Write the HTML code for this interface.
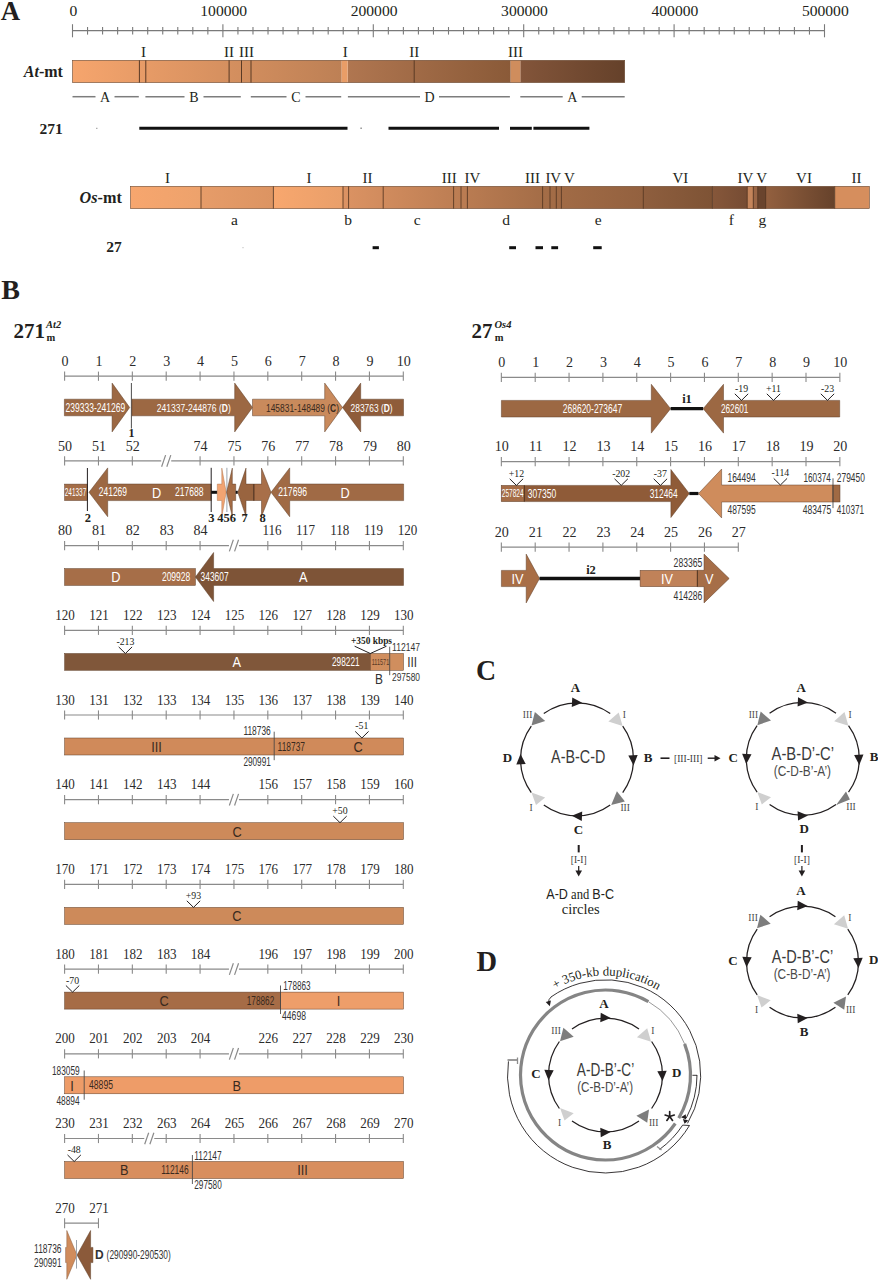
<!DOCTYPE html>
<html><head><meta charset="utf-8"><style>
html,body{margin:0;padding:0;background:#fff;}
svg{display:block;}
</style></head><body>
<svg width="878" height="1280" viewBox="0 0 878 1280">
<rect width="878" height="1280" fill="#fff"/>
<text x="10.50" y="19.80" font-family='"Liberation Serif", serif' font-size="26.8" text-anchor="middle" font-weight="bold" font-style="normal" fill="#231f20" >A</text>
<line x1="72.50" y1="30.60" x2="824.50" y2="30.60" stroke="#7a7a7a" stroke-width="1.1"/>
<line x1="72.50" y1="24.20" x2="72.50" y2="37.30" stroke="#7a7a7a" stroke-width="1.1"/>
<line x1="87.54" y1="27.00" x2="87.54" y2="34.60" stroke="#7a7a7a" stroke-width="1.1"/>
<line x1="102.58" y1="27.00" x2="102.58" y2="34.60" stroke="#7a7a7a" stroke-width="1.1"/>
<line x1="117.62" y1="27.00" x2="117.62" y2="34.60" stroke="#7a7a7a" stroke-width="1.1"/>
<line x1="132.66" y1="27.00" x2="132.66" y2="34.60" stroke="#7a7a7a" stroke-width="1.1"/>
<line x1="147.70" y1="27.00" x2="147.70" y2="34.60" stroke="#7a7a7a" stroke-width="1.1"/>
<line x1="162.74" y1="27.00" x2="162.74" y2="34.60" stroke="#7a7a7a" stroke-width="1.1"/>
<line x1="177.78" y1="27.00" x2="177.78" y2="34.60" stroke="#7a7a7a" stroke-width="1.1"/>
<line x1="192.82" y1="27.00" x2="192.82" y2="34.60" stroke="#7a7a7a" stroke-width="1.1"/>
<line x1="207.86" y1="27.00" x2="207.86" y2="34.60" stroke="#7a7a7a" stroke-width="1.1"/>
<line x1="222.90" y1="24.20" x2="222.90" y2="37.30" stroke="#7a7a7a" stroke-width="1.1"/>
<line x1="237.94" y1="27.00" x2="237.94" y2="34.60" stroke="#7a7a7a" stroke-width="1.1"/>
<line x1="252.98" y1="27.00" x2="252.98" y2="34.60" stroke="#7a7a7a" stroke-width="1.1"/>
<line x1="268.02" y1="27.00" x2="268.02" y2="34.60" stroke="#7a7a7a" stroke-width="1.1"/>
<line x1="283.06" y1="27.00" x2="283.06" y2="34.60" stroke="#7a7a7a" stroke-width="1.1"/>
<line x1="298.10" y1="27.00" x2="298.10" y2="34.60" stroke="#7a7a7a" stroke-width="1.1"/>
<line x1="313.14" y1="27.00" x2="313.14" y2="34.60" stroke="#7a7a7a" stroke-width="1.1"/>
<line x1="328.18" y1="27.00" x2="328.18" y2="34.60" stroke="#7a7a7a" stroke-width="1.1"/>
<line x1="343.22" y1="27.00" x2="343.22" y2="34.60" stroke="#7a7a7a" stroke-width="1.1"/>
<line x1="358.26" y1="27.00" x2="358.26" y2="34.60" stroke="#7a7a7a" stroke-width="1.1"/>
<line x1="373.30" y1="24.20" x2="373.30" y2="37.30" stroke="#7a7a7a" stroke-width="1.1"/>
<line x1="388.34" y1="27.00" x2="388.34" y2="34.60" stroke="#7a7a7a" stroke-width="1.1"/>
<line x1="403.38" y1="27.00" x2="403.38" y2="34.60" stroke="#7a7a7a" stroke-width="1.1"/>
<line x1="418.42" y1="27.00" x2="418.42" y2="34.60" stroke="#7a7a7a" stroke-width="1.1"/>
<line x1="433.46" y1="27.00" x2="433.46" y2="34.60" stroke="#7a7a7a" stroke-width="1.1"/>
<line x1="448.50" y1="27.00" x2="448.50" y2="34.60" stroke="#7a7a7a" stroke-width="1.1"/>
<line x1="463.54" y1="27.00" x2="463.54" y2="34.60" stroke="#7a7a7a" stroke-width="1.1"/>
<line x1="478.58" y1="27.00" x2="478.58" y2="34.60" stroke="#7a7a7a" stroke-width="1.1"/>
<line x1="493.62" y1="27.00" x2="493.62" y2="34.60" stroke="#7a7a7a" stroke-width="1.1"/>
<line x1="508.66" y1="27.00" x2="508.66" y2="34.60" stroke="#7a7a7a" stroke-width="1.1"/>
<line x1="523.70" y1="24.20" x2="523.70" y2="37.30" stroke="#7a7a7a" stroke-width="1.1"/>
<line x1="538.74" y1="27.00" x2="538.74" y2="34.60" stroke="#7a7a7a" stroke-width="1.1"/>
<line x1="553.78" y1="27.00" x2="553.78" y2="34.60" stroke="#7a7a7a" stroke-width="1.1"/>
<line x1="568.82" y1="27.00" x2="568.82" y2="34.60" stroke="#7a7a7a" stroke-width="1.1"/>
<line x1="583.86" y1="27.00" x2="583.86" y2="34.60" stroke="#7a7a7a" stroke-width="1.1"/>
<line x1="598.90" y1="27.00" x2="598.90" y2="34.60" stroke="#7a7a7a" stroke-width="1.1"/>
<line x1="613.94" y1="27.00" x2="613.94" y2="34.60" stroke="#7a7a7a" stroke-width="1.1"/>
<line x1="628.98" y1="27.00" x2="628.98" y2="34.60" stroke="#7a7a7a" stroke-width="1.1"/>
<line x1="644.02" y1="27.00" x2="644.02" y2="34.60" stroke="#7a7a7a" stroke-width="1.1"/>
<line x1="659.06" y1="27.00" x2="659.06" y2="34.60" stroke="#7a7a7a" stroke-width="1.1"/>
<line x1="674.10" y1="24.20" x2="674.10" y2="37.30" stroke="#7a7a7a" stroke-width="1.1"/>
<line x1="689.14" y1="27.00" x2="689.14" y2="34.60" stroke="#7a7a7a" stroke-width="1.1"/>
<line x1="704.18" y1="27.00" x2="704.18" y2="34.60" stroke="#7a7a7a" stroke-width="1.1"/>
<line x1="719.22" y1="27.00" x2="719.22" y2="34.60" stroke="#7a7a7a" stroke-width="1.1"/>
<line x1="734.26" y1="27.00" x2="734.26" y2="34.60" stroke="#7a7a7a" stroke-width="1.1"/>
<line x1="749.30" y1="27.00" x2="749.30" y2="34.60" stroke="#7a7a7a" stroke-width="1.1"/>
<line x1="764.34" y1="27.00" x2="764.34" y2="34.60" stroke="#7a7a7a" stroke-width="1.1"/>
<line x1="779.38" y1="27.00" x2="779.38" y2="34.60" stroke="#7a7a7a" stroke-width="1.1"/>
<line x1="794.42" y1="27.00" x2="794.42" y2="34.60" stroke="#7a7a7a" stroke-width="1.1"/>
<line x1="809.46" y1="27.00" x2="809.46" y2="34.60" stroke="#7a7a7a" stroke-width="1.1"/>
<line x1="824.50" y1="24.20" x2="824.50" y2="37.30" stroke="#7a7a7a" stroke-width="1.1"/>
<text x="73.30" y="15.80" font-family='"Liberation Serif", serif' font-size="15.6" text-anchor="middle" font-weight="normal" font-style="normal" fill="#231f20" >0</text>
<text x="223.70" y="15.80" font-family='"Liberation Serif", serif' font-size="15.6" text-anchor="middle" font-weight="normal" font-style="normal" fill="#231f20" >100000</text>
<text x="374.10" y="15.80" font-family='"Liberation Serif", serif' font-size="15.6" text-anchor="middle" font-weight="normal" font-style="normal" fill="#231f20" >200000</text>
<text x="524.50" y="15.80" font-family='"Liberation Serif", serif' font-size="15.6" text-anchor="middle" font-weight="normal" font-style="normal" fill="#231f20" >300000</text>
<text x="674.90" y="15.80" font-family='"Liberation Serif", serif' font-size="15.6" text-anchor="middle" font-weight="normal" font-style="normal" fill="#231f20" >400000</text>
<text x="825.30" y="15.80" font-family='"Liberation Serif", serif' font-size="15.6" text-anchor="middle" font-weight="normal" font-style="normal" fill="#231f20" >500000</text>
<defs><linearGradient id="ga1" x1="0" x2="1"><stop offset="0" stop-color="#f6a56d"/><stop offset="1" stop-color="#bd8055"/></linearGradient><linearGradient id="ga2" x1="0" x2="1"><stop offset="0" stop-color="#b07650"/><stop offset="1" stop-color="#8a5a38"/></linearGradient><linearGradient id="ga3" x1="0" x2="1"><stop offset="0" stop-color="#83553a"/><stop offset="1" stop-color="#65412a"/></linearGradient></defs>
<rect x="72.50" y="60.30" width="269.20" height="22.30" fill="url(#ga1)" stroke="none" stroke-width="0"/>
<rect x="347.60" y="60.30" width="163.10" height="22.30" fill="url(#ga2)" stroke="none" stroke-width="0"/>
<rect x="520.30" y="60.30" width="104.40" height="22.30" fill="url(#ga3)" stroke="none" stroke-width="0"/>
<rect x="341.70" y="60.30" width="5.90" height="22.30" fill="#e99d67" stroke="none" stroke-width="0"/>
<rect x="510.70" y="60.30" width="9.60" height="22.30" fill="#cf8d5d" stroke="none" stroke-width="0"/>
<rect x="72.50" y="60.30" width="552.20" height="22.30" fill="none" stroke="#6b4a33" stroke-width="0.6"/>
<line x1="139.40" y1="60.30" x2="139.40" y2="82.60" stroke="#5a3a25" stroke-width="1.0"/>
<line x1="145.80" y1="60.30" x2="145.80" y2="82.60" stroke="#5a3a25" stroke-width="1.0"/>
<line x1="229.10" y1="60.30" x2="229.10" y2="82.60" stroke="#5a3a25" stroke-width="1.0"/>
<line x1="241.50" y1="60.30" x2="241.50" y2="82.60" stroke="#5a3a25" stroke-width="1.0"/>
<line x1="251.00" y1="60.30" x2="251.00" y2="82.60" stroke="#5a3a25" stroke-width="1.0"/>
<line x1="414.20" y1="60.30" x2="414.20" y2="82.60" stroke="#5a3a25" stroke-width="1.0"/>
<text x="143.60" y="57.20" font-family='"Liberation Serif", serif' font-size="15" text-anchor="middle" font-weight="normal" font-style="normal" fill="#231f20" >I</text>
<text x="229.10" y="57.20" font-family='"Liberation Serif", serif' font-size="15" text-anchor="middle" font-weight="normal" font-style="normal" fill="#231f20" >II</text>
<text x="246.40" y="57.20" font-family='"Liberation Serif", serif' font-size="15" text-anchor="middle" font-weight="normal" font-style="normal" fill="#231f20" >III</text>
<text x="345.20" y="57.20" font-family='"Liberation Serif", serif' font-size="15" text-anchor="middle" font-weight="normal" font-style="normal" fill="#231f20" >I</text>
<text x="414.20" y="57.20" font-family='"Liberation Serif", serif' font-size="15" text-anchor="middle" font-weight="normal" font-style="normal" fill="#231f20" >II</text>
<text x="515.50" y="57.20" font-family='"Liberation Serif", serif' font-size="15" text-anchor="middle" font-weight="normal" font-style="normal" fill="#231f20" >III</text>
<text x="62.9" y="77.2" font-family='"Liberation Serif", serif' font-size="16" text-anchor="end" font-weight="bold" fill="#231f20"><tspan font-style="italic">At</tspan>-mt</text>
<line x1="72.50" y1="96.70" x2="95.50" y2="96.70" stroke="#7d7d7d" stroke-width="1.5"/>
<line x1="114.50" y1="96.70" x2="138.80" y2="96.70" stroke="#7d7d7d" stroke-width="1.5"/>
<text x="105.00" y="101.70" font-family='"Liberation Serif", serif' font-size="14" text-anchor="middle" font-weight="normal" font-style="normal" fill="#231f20" >A</text>
<line x1="145.40" y1="96.70" x2="184.50" y2="96.70" stroke="#7d7d7d" stroke-width="1.5"/>
<line x1="203.50" y1="96.70" x2="240.80" y2="96.70" stroke="#7d7d7d" stroke-width="1.5"/>
<text x="194.00" y="101.70" font-family='"Liberation Serif", serif' font-size="14" text-anchor="middle" font-weight="normal" font-style="normal" fill="#231f20" >B</text>
<line x1="250.80" y1="96.70" x2="286.50" y2="96.70" stroke="#7d7d7d" stroke-width="1.5"/>
<line x1="305.50" y1="96.70" x2="341.20" y2="96.70" stroke="#7d7d7d" stroke-width="1.5"/>
<text x="296.00" y="101.70" font-family='"Liberation Serif", serif' font-size="14" text-anchor="middle" font-weight="normal" font-style="normal" fill="#231f20" >C</text>
<line x1="347.90" y1="96.70" x2="420.00" y2="96.70" stroke="#7d7d7d" stroke-width="1.5"/>
<line x1="439.00" y1="96.70" x2="509.90" y2="96.70" stroke="#7d7d7d" stroke-width="1.5"/>
<text x="429.50" y="101.70" font-family='"Liberation Serif", serif' font-size="14" text-anchor="middle" font-weight="normal" font-style="normal" fill="#231f20" >D</text>
<line x1="520.30" y1="96.70" x2="562.70" y2="96.70" stroke="#7d7d7d" stroke-width="1.5"/>
<line x1="581.70" y1="96.70" x2="624.70" y2="96.70" stroke="#7d7d7d" stroke-width="1.5"/>
<text x="572.20" y="101.70" font-family='"Liberation Serif", serif' font-size="14" text-anchor="middle" font-weight="normal" font-style="normal" fill="#231f20" >A</text>
<text x="62.70" y="134.30" font-family='"Liberation Serif", serif' font-size="15.5" text-anchor="end" font-weight="bold" font-style="normal" fill="#231f20" >271</text>
<line x1="139.30" y1="128.30" x2="347.50" y2="128.30" stroke="#111" stroke-width="3.0"/>
<line x1="388.50" y1="128.30" x2="499.00" y2="128.30" stroke="#111" stroke-width="3.0"/>
<line x1="510.00" y1="128.30" x2="531.80" y2="128.30" stroke="#111" stroke-width="3.0"/>
<line x1="533.40" y1="128.30" x2="589.40" y2="128.30" stroke="#111" stroke-width="3.0"/>
<line x1="96.20" y1="128.30" x2="97.40" y2="128.30" stroke="#999" stroke-width="1.2"/>
<line x1="360.50" y1="128.30" x2="361.70" y2="128.30" stroke="#777" stroke-width="1.5"/>
<defs><linearGradient id="go1" x1="0" x2="1"><stop offset="0" stop-color="#f7a66e"/><stop offset="1" stop-color="#eda26c"/></linearGradient><linearGradient id="go2" x1="0" x2="1"><stop offset="0" stop-color="#e69c69"/><stop offset="1" stop-color="#dc9462"/></linearGradient><linearGradient id="go3" x1="0" x2="1"><stop offset="0" stop-color="#f8a76e"/><stop offset="1" stop-color="#e99f6a"/></linearGradient><linearGradient id="go4" x1="0" x2="1"><stop offset="0" stop-color="#dc9363"/><stop offset="1" stop-color="#a46d47"/></linearGradient><linearGradient id="go5" x1="0" x2="1"><stop offset="0" stop-color="#a46d47"/><stop offset="0.59" stop-color="#93613f"/><stop offset="0.6" stop-color="#8e5e3e"/><stop offset="1" stop-color="#7e5335"/></linearGradient><linearGradient id="go6" x1="0" x2="1"><stop offset="0" stop-color="#86573a"/><stop offset="1" stop-color="#6d4630"/></linearGradient><linearGradient id="go7" x1="0" x2="1"><stop offset="0" stop-color="#93603f"/><stop offset="1" stop-color="#66422b"/></linearGradient></defs>
<rect x="130.50" y="186.30" width="70.50" height="22.30" fill="url(#go1)" stroke="none" stroke-width="0"/>
<rect x="201.00" y="186.30" width="72.40" height="22.30" fill="url(#go2)" stroke="none" stroke-width="0"/>
<rect x="273.40" y="186.30" width="69.60" height="22.30" fill="url(#go3)" stroke="none" stroke-width="0"/>
<rect x="343.00" y="186.30" width="200.00" height="22.30" fill="url(#go4)" stroke="none" stroke-width="0"/>
<rect x="543.00" y="186.30" width="169.40" height="22.30" fill="url(#go5)" stroke="none" stroke-width="0"/>
<rect x="712.40" y="186.30" width="53.60" height="22.30" fill="url(#go6)" stroke="none" stroke-width="0"/>
<rect x="747.20" y="186.30" width="6.10" height="22.30" fill="#c4845a" stroke="none" stroke-width="0"/>
<rect x="753.30" y="186.30" width="4.50" height="22.30" fill="#9a6646" stroke="none" stroke-width="0"/>
<rect x="757.80" y="186.30" width="7.90" height="22.30" fill="#6a442d" stroke="none" stroke-width="0"/>
<rect x="766.00" y="186.30" width="68.70" height="22.30" fill="url(#go7)" stroke="none" stroke-width="0"/>
<rect x="834.70" y="186.30" width="34.70" height="22.30" fill="#d68e5d" stroke="none" stroke-width="0"/>
<rect x="130.50" y="186.30" width="738.90" height="22.30" fill="none" stroke="#6b4a33" stroke-width="0.6"/>
<line x1="201.00" y1="186.30" x2="201.00" y2="208.60" stroke="#5a3a25" stroke-width="0.9"/>
<line x1="273.40" y1="186.30" x2="273.40" y2="208.60" stroke="#5a3a25" stroke-width="0.9"/>
<line x1="343.00" y1="186.30" x2="343.00" y2="208.60" stroke="#5a3a25" stroke-width="0.9"/>
<line x1="348.60" y1="186.30" x2="348.60" y2="208.60" stroke="#5a3a25" stroke-width="0.9"/>
<line x1="383.20" y1="186.30" x2="383.20" y2="208.60" stroke="#5a3a25" stroke-width="0.9"/>
<line x1="453.60" y1="186.30" x2="453.60" y2="208.60" stroke="#5a3a25" stroke-width="0.9"/>
<line x1="461.00" y1="186.30" x2="461.00" y2="208.60" stroke="#5a3a25" stroke-width="0.9"/>
<line x1="467.40" y1="186.30" x2="467.40" y2="208.60" stroke="#5a3a25" stroke-width="0.9"/>
<line x1="542.60" y1="186.30" x2="542.60" y2="208.60" stroke="#5a3a25" stroke-width="0.9"/>
<line x1="550.00" y1="186.30" x2="550.00" y2="208.60" stroke="#5a3a25" stroke-width="0.9"/>
<line x1="556.30" y1="186.30" x2="556.30" y2="208.60" stroke="#5a3a25" stroke-width="0.9"/>
<line x1="561.40" y1="186.30" x2="561.40" y2="208.60" stroke="#5a3a25" stroke-width="0.9"/>
<line x1="643.30" y1="186.30" x2="643.30" y2="208.60" stroke="#5a3a25" stroke-width="0.9"/>
<line x1="712.40" y1="186.30" x2="712.40" y2="208.60" stroke="#5a3a25" stroke-width="0.9"/>
<line x1="747.20" y1="186.30" x2="747.20" y2="208.60" stroke="#5a3a25" stroke-width="0.9"/>
<line x1="753.30" y1="186.30" x2="753.30" y2="208.60" stroke="#5a3a25" stroke-width="0.9"/>
<line x1="757.80" y1="186.30" x2="757.80" y2="208.60" stroke="#5a3a25" stroke-width="0.9"/>
<line x1="765.70" y1="186.30" x2="765.70" y2="208.60" stroke="#5a3a25" stroke-width="0.9"/>
<line x1="834.70" y1="186.30" x2="834.70" y2="208.60" stroke="#5a3a25" stroke-width="0.9"/>
<text x="167.60" y="183.00" font-family='"Liberation Serif", serif' font-size="15" text-anchor="middle" font-weight="normal" font-style="normal" fill="#231f20" >I</text>
<text x="309.00" y="183.00" font-family='"Liberation Serif", serif' font-size="15" text-anchor="middle" font-weight="normal" font-style="normal" fill="#231f20" >I</text>
<text x="367.60" y="183.00" font-family='"Liberation Serif", serif' font-size="15" text-anchor="middle" font-weight="normal" font-style="normal" fill="#231f20" >II</text>
<text x="449.30" y="183.00" font-family='"Liberation Serif", serif' font-size="15" text-anchor="middle" font-weight="normal" font-style="normal" fill="#231f20" >III</text>
<text x="472.40" y="183.00" font-family='"Liberation Serif", serif' font-size="15" text-anchor="middle" font-weight="normal" font-style="normal" fill="#231f20" >IV</text>
<text x="532.50" y="183.00" font-family='"Liberation Serif", serif' font-size="15" text-anchor="middle" font-weight="normal" font-style="normal" fill="#231f20" >III</text>
<text x="553.30" y="183.00" font-family='"Liberation Serif", serif' font-size="15" text-anchor="middle" font-weight="normal" font-style="normal" fill="#231f20" >IV</text>
<text x="569.40" y="183.00" font-family='"Liberation Serif", serif' font-size="15" text-anchor="middle" font-weight="normal" font-style="normal" fill="#231f20" >V</text>
<text x="680.40" y="183.00" font-family='"Liberation Serif", serif' font-size="15" text-anchor="middle" font-weight="normal" font-style="normal" fill="#231f20" >VI</text>
<text x="745.40" y="183.00" font-family='"Liberation Serif", serif' font-size="15" text-anchor="middle" font-weight="normal" font-style="normal" fill="#231f20" >IV</text>
<text x="761.60" y="183.00" font-family='"Liberation Serif", serif' font-size="15" text-anchor="middle" font-weight="normal" font-style="normal" fill="#231f20" >V</text>
<text x="804.00" y="183.00" font-family='"Liberation Serif", serif' font-size="15" text-anchor="middle" font-weight="normal" font-style="normal" fill="#231f20" >VI</text>
<text x="856.40" y="183.00" font-family='"Liberation Serif", serif' font-size="15" text-anchor="middle" font-weight="normal" font-style="normal" fill="#231f20" >II</text>
<text x="234.50" y="224.80" font-family='"Liberation Serif", serif' font-size="15.5" text-anchor="middle" font-weight="normal" font-style="normal" fill="#231f20" >a</text>
<text x="348.00" y="224.80" font-family='"Liberation Serif", serif' font-size="15.5" text-anchor="middle" font-weight="normal" font-style="normal" fill="#231f20" >b</text>
<text x="417.20" y="224.80" font-family='"Liberation Serif", serif' font-size="15.5" text-anchor="middle" font-weight="normal" font-style="normal" fill="#231f20" >c</text>
<text x="506.00" y="224.80" font-family='"Liberation Serif", serif' font-size="15.5" text-anchor="middle" font-weight="normal" font-style="normal" fill="#231f20" >d</text>
<text x="598.20" y="224.80" font-family='"Liberation Serif", serif' font-size="15.5" text-anchor="middle" font-weight="normal" font-style="normal" fill="#231f20" >e</text>
<text x="731.40" y="224.80" font-family='"Liberation Serif", serif' font-size="15.5" text-anchor="middle" font-weight="normal" font-style="normal" fill="#231f20" >f</text>
<text x="762.30" y="224.80" font-family='"Liberation Serif", serif' font-size="15.5" text-anchor="middle" font-weight="normal" font-style="normal" fill="#231f20" >g</text>
<text x="121.8" y="203.2" font-family='"Liberation Serif", serif' font-size="16.2" text-anchor="end" font-weight="bold" fill="#231f20"><tspan font-style="italic">Os</tspan>-mt</text>
<text x="121.80" y="252.40" font-family='"Liberation Serif", serif' font-size="15.5" text-anchor="end" font-weight="bold" font-style="normal" fill="#231f20" >27</text>
<line x1="372.60" y1="247.70" x2="378.90" y2="247.70" stroke="#111" stroke-width="3.0"/>
<line x1="509.20" y1="247.70" x2="516.00" y2="247.70" stroke="#111" stroke-width="3.0"/>
<line x1="535.50" y1="247.70" x2="543.00" y2="247.70" stroke="#111" stroke-width="3.0"/>
<line x1="551.30" y1="247.70" x2="558.10" y2="247.70" stroke="#111" stroke-width="3.0"/>
<line x1="593.20" y1="247.70" x2="601.70" y2="247.70" stroke="#111" stroke-width="3.0"/>
<line x1="242.50" y1="247.70" x2="243.50" y2="247.70" stroke="#aaa" stroke-width="1"/>
<text transform="translate(1.2 298.6) scale(1.0 1)" font-family='"Liberation Serif", serif' font-size="28" font-weight="bold" fill="#231f20">B</text>
<text x="13.50" y="338.20" font-family='"Liberation Serif", serif' font-size="21" text-anchor="start" font-weight="bold" font-style="normal" fill="#231f20" >271</text>
<text x="46.00" y="327.60" font-family='"Liberation Serif", serif' font-size="10.5" text-anchor="start" font-weight="bold" font-style="italic" fill="#231f20" >At2</text>
<text x="46.50" y="340.70" font-family='"Liberation Serif", serif' font-size="10.5" text-anchor="start" font-weight="bold" font-style="normal" fill="#231f20" >m</text>
<text x="471.50" y="337.80" font-family='"Liberation Serif", serif' font-size="21" text-anchor="start" font-weight="bold" font-style="normal" fill="#231f20" >27</text>
<text x="494.50" y="328.20" font-family='"Liberation Serif", serif' font-size="10.5" text-anchor="start" font-weight="bold" font-style="italic" fill="#231f20" >Os4</text>
<text x="494.80" y="340.70" font-family='"Liberation Serif", serif' font-size="10.5" text-anchor="start" font-weight="bold" font-style="normal" fill="#231f20" >m</text>
<line x1="64.60" y1="376.20" x2="403.30" y2="376.20" stroke="#8a8a8a" stroke-width="1.2"/>
<line x1="64.60" y1="371.60" x2="64.60" y2="380.80" stroke="#8a8a8a" stroke-width="1.1"/>
<text transform="translate(65.10 365.80) scale(0.97 1)" font-family='"Liberation Serif", serif' font-size="14.5" text-anchor="middle" fill="#2b2b2b">0</text>
<line x1="98.47" y1="371.60" x2="98.47" y2="380.80" stroke="#8a8a8a" stroke-width="1.1"/>
<text transform="translate(98.97 365.80) scale(0.97 1)" font-family='"Liberation Serif", serif' font-size="14.5" text-anchor="middle" fill="#2b2b2b">1</text>
<line x1="132.34" y1="371.60" x2="132.34" y2="380.80" stroke="#8a8a8a" stroke-width="1.1"/>
<text transform="translate(132.84 365.80) scale(0.97 1)" font-family='"Liberation Serif", serif' font-size="14.5" text-anchor="middle" fill="#2b2b2b">2</text>
<line x1="166.21" y1="371.60" x2="166.21" y2="380.80" stroke="#8a8a8a" stroke-width="1.1"/>
<text transform="translate(166.71 365.80) scale(0.97 1)" font-family='"Liberation Serif", serif' font-size="14.5" text-anchor="middle" fill="#2b2b2b">3</text>
<line x1="200.08" y1="371.60" x2="200.08" y2="380.80" stroke="#8a8a8a" stroke-width="1.1"/>
<text transform="translate(200.58 365.80) scale(0.97 1)" font-family='"Liberation Serif", serif' font-size="14.5" text-anchor="middle" fill="#2b2b2b">4</text>
<line x1="233.95" y1="371.60" x2="233.95" y2="380.80" stroke="#8a8a8a" stroke-width="1.1"/>
<text transform="translate(234.45 365.80) scale(0.97 1)" font-family='"Liberation Serif", serif' font-size="14.5" text-anchor="middle" fill="#2b2b2b">5</text>
<line x1="267.82" y1="371.60" x2="267.82" y2="380.80" stroke="#8a8a8a" stroke-width="1.1"/>
<text transform="translate(268.32 365.80) scale(0.97 1)" font-family='"Liberation Serif", serif' font-size="14.5" text-anchor="middle" fill="#2b2b2b">6</text>
<line x1="301.69" y1="371.60" x2="301.69" y2="380.80" stroke="#8a8a8a" stroke-width="1.1"/>
<text transform="translate(302.19 365.80) scale(0.97 1)" font-family='"Liberation Serif", serif' font-size="14.5" text-anchor="middle" fill="#2b2b2b">7</text>
<line x1="335.56" y1="371.60" x2="335.56" y2="380.80" stroke="#8a8a8a" stroke-width="1.1"/>
<text transform="translate(336.06 365.80) scale(0.97 1)" font-family='"Liberation Serif", serif' font-size="14.5" text-anchor="middle" fill="#2b2b2b">8</text>
<line x1="369.43" y1="371.60" x2="369.43" y2="380.80" stroke="#8a8a8a" stroke-width="1.1"/>
<text transform="translate(369.93 365.80) scale(0.97 1)" font-family='"Liberation Serif", serif' font-size="14.5" text-anchor="middle" fill="#2b2b2b">9</text>
<line x1="403.30" y1="371.60" x2="403.30" y2="380.80" stroke="#8a8a8a" stroke-width="1.1"/>
<text transform="translate(403.80 365.80) scale(0.97 1)" font-family='"Liberation Serif", serif' font-size="14.5" text-anchor="middle" fill="#2b2b2b">10</text>
<polygon points="64.40,399.20 112.10,399.20 112.10,383.10 129.70,407.50 112.10,431.90 112.10,415.80 64.40,415.80" fill="#9c6843" stroke="#5e3e28" stroke-width="0.5" stroke-linejoin="miter"/>
<text x="65.50" y="411.52" font-family='"Liberation Sans", sans-serif' font-size="12" fill="#fff" font-weight="normal" textLength="59.70" lengthAdjust="spacingAndGlyphs">239333-241269</text>
<line x1="131.40" y1="383.00" x2="131.40" y2="428.50" stroke="#3a3a3a" stroke-width="0.9"/>
<text x="131.40" y="436.50" font-family='"Liberation Serif", serif' font-size="12" text-anchor="middle" font-weight="bold" font-style="normal" fill="#231f20" >1</text>
<polygon points="131.90,399.20 234.70,399.20 234.70,383.10 252.50,407.50 234.70,431.90 234.70,415.80 131.90,415.80" fill="#9c6843" stroke="#5e3e28" stroke-width="0.5" stroke-linejoin="miter"/>
<text x="156.8" y="411.60" font-family='"Liberation Sans", sans-serif' font-size="11.5" fill="#fff" textLength="74" lengthAdjust="spacingAndGlyphs">241337-244876 (<tspan font-weight="bold">D</tspan>)</text>
<polygon points="252.50,399.20 324.70,399.20 324.70,383.10 342.50,407.50 324.70,431.90 324.70,415.80 252.50,415.80" fill="#c98a5c" stroke="#5e3e28" stroke-width="0.5" stroke-linejoin="miter"/>
<text x="266" y="411.60" font-family='"Liberation Sans", sans-serif' font-size="11.5" fill="#3a2a1e" textLength="73" lengthAdjust="spacingAndGlyphs">145831-148489 (<tspan font-weight="bold">C</tspan>)</text>
<polygon points="403.50,399.20 360.70,399.20 360.70,383.10 342.50,407.50 360.70,431.90 360.70,415.80 403.50,415.80" fill="#8f5c3a" stroke="#5e3e28" stroke-width="0.5" stroke-linejoin="miter"/>
<text x="350.6" y="411.60" font-family='"Liberation Sans", sans-serif' font-size="11.5" fill="#fff" textLength="42" lengthAdjust="spacingAndGlyphs">283763 (<tspan font-weight="bold">D</tspan>)</text>
<line x1="64.60" y1="460.90" x2="161.21" y2="460.90" stroke="#8a8a8a" stroke-width="1.2"/>
<line x1="171.21" y1="460.90" x2="403.30" y2="460.90" stroke="#8a8a8a" stroke-width="1.2"/>
<line x1="161.61" y1="466.70" x2="165.61" y2="455.10" stroke="#8a8a8a" stroke-width="1.2"/>
<line x1="166.81" y1="466.70" x2="170.81" y2="455.10" stroke="#8a8a8a" stroke-width="1.2"/>
<line x1="64.60" y1="456.30" x2="64.60" y2="465.50" stroke="#8a8a8a" stroke-width="1.1"/>
<text transform="translate(65.10 450.50) scale(0.97 1)" font-family='"Liberation Serif", serif' font-size="14.5" text-anchor="middle" fill="#2b2b2b">50</text>
<line x1="98.47" y1="456.30" x2="98.47" y2="465.50" stroke="#8a8a8a" stroke-width="1.1"/>
<text transform="translate(98.97 450.50) scale(0.97 1)" font-family='"Liberation Serif", serif' font-size="14.5" text-anchor="middle" fill="#2b2b2b">51</text>
<line x1="132.34" y1="456.30" x2="132.34" y2="465.50" stroke="#8a8a8a" stroke-width="1.1"/>
<text transform="translate(132.84 450.50) scale(0.97 1)" font-family='"Liberation Serif", serif' font-size="14.5" text-anchor="middle" fill="#2b2b2b">52</text>
<line x1="200.08" y1="456.30" x2="200.08" y2="465.50" stroke="#8a8a8a" stroke-width="1.1"/>
<text transform="translate(200.58 450.50) scale(0.97 1)" font-family='"Liberation Serif", serif' font-size="14.5" text-anchor="middle" fill="#2b2b2b">74</text>
<line x1="233.95" y1="456.30" x2="233.95" y2="465.50" stroke="#8a8a8a" stroke-width="1.1"/>
<text transform="translate(234.45 450.50) scale(0.97 1)" font-family='"Liberation Serif", serif' font-size="14.5" text-anchor="middle" fill="#2b2b2b">75</text>
<line x1="267.82" y1="456.30" x2="267.82" y2="465.50" stroke="#8a8a8a" stroke-width="1.1"/>
<text transform="translate(268.32 450.50) scale(0.97 1)" font-family='"Liberation Serif", serif' font-size="14.5" text-anchor="middle" fill="#2b2b2b">76</text>
<line x1="301.69" y1="456.30" x2="301.69" y2="465.50" stroke="#8a8a8a" stroke-width="1.1"/>
<text transform="translate(302.19 450.50) scale(0.97 1)" font-family='"Liberation Serif", serif' font-size="14.5" text-anchor="middle" fill="#2b2b2b">77</text>
<line x1="335.56" y1="456.30" x2="335.56" y2="465.50" stroke="#8a8a8a" stroke-width="1.1"/>
<text transform="translate(336.06 450.50) scale(0.97 1)" font-family='"Liberation Serif", serif' font-size="14.5" text-anchor="middle" fill="#2b2b2b">78</text>
<line x1="369.43" y1="456.30" x2="369.43" y2="465.50" stroke="#8a8a8a" stroke-width="1.1"/>
<text transform="translate(369.93 450.50) scale(0.97 1)" font-family='"Liberation Serif", serif' font-size="14.5" text-anchor="middle" fill="#2b2b2b">79</text>
<line x1="403.30" y1="456.30" x2="403.30" y2="465.50" stroke="#8a8a8a" stroke-width="1.1"/>
<text transform="translate(403.80 450.50) scale(0.97 1)" font-family='"Liberation Serif", serif' font-size="14.5" text-anchor="middle" fill="#2b2b2b">80</text>
<rect x="64.60" y="484.10" width="22.80" height="16.40" fill="#a46d47" stroke="#5e3e28" stroke-width="0.5"/>
<text x="64.80" y="495.98" font-family='"Liberation Sans", sans-serif' font-size="11" fill="#fff" font-weight="normal" textLength="21.40" lengthAdjust="spacingAndGlyphs">241337</text>
<polygon points="211.30,484.00 107.70,484.00 107.70,467.90 89.00,492.30 107.70,516.70 107.70,500.60 211.30,500.60" fill="#9c6843" stroke="#5e3e28" stroke-width="0.5" stroke-linejoin="miter"/>
<text x="98.80" y="496.32" font-family='"Liberation Sans", sans-serif' font-size="12" fill="#fff" font-weight="normal" textLength="28.20" lengthAdjust="spacingAndGlyphs">241269</text>
<text transform="translate(156.60 497.67) scale(0.85 1)" font-family='"Liberation Sans", sans-serif' font-size="15" fill="#fff" text-anchor="middle" font-weight="normal">D</text>
<text x="175.00" y="496.32" font-family='"Liberation Sans", sans-serif' font-size="12" fill="#fff" font-weight="normal" textLength="28.60" lengthAdjust="spacingAndGlyphs">217688</text>
<line x1="87.40" y1="468.00" x2="87.40" y2="511.00" stroke="#231f20" stroke-width="1"/>
<text x="87.80" y="522.00" font-family='"Liberation Serif", serif' font-size="12.5" text-anchor="middle" font-weight="bold" font-style="normal" fill="#231f20" >2</text>
<line x1="211.20" y1="467.80" x2="211.20" y2="512.00" stroke="#231f20" stroke-width="1"/>
<text x="211.40" y="522.00" font-family='"Liberation Serif", serif' font-size="12.5" text-anchor="middle" font-weight="bold" font-style="normal" fill="#231f20" >3</text>
<line x1="211.20" y1="492.30" x2="217.30" y2="492.30" stroke="#111" stroke-width="3"/>
<polygon points="217.30,484.10 221.80,484.10 221.80,468.10 226.20,492.30 221.80,516.50 221.80,500.50 217.30,500.50" fill="#f2a472" stroke="#b07a55" stroke-width="0.5" stroke-linejoin="miter"/>
<line x1="226.90" y1="467.80" x2="226.90" y2="512.00" stroke="#9aa3ad" stroke-width="1"/>
<polygon points="235.70,484.10 232.30,484.10 232.30,468.10 226.60,492.30 232.30,516.50 232.30,500.50 235.70,500.50" fill="#a56c45" stroke="#5e3e28" stroke-width="0.5" stroke-linejoin="miter"/>
<line x1="235.70" y1="492.30" x2="237.80" y2="492.30" stroke="#111" stroke-width="3"/>
<polygon points="253.80,484.10 246.00,484.10 246.00,468.10 237.80,492.30 246.00,516.50 246.00,500.50 253.80,500.50" fill="#99643f" stroke="#5e3e28" stroke-width="0.5" stroke-linejoin="miter"/>
<polygon points="253.80,484.10 261.50,484.10 261.50,468.10 271.00,492.30 261.50,516.50 261.50,500.50 253.80,500.50" fill="#a86f49" stroke="#5e3e28" stroke-width="0.5" stroke-linejoin="miter"/>
<line x1="253.80" y1="484.10" x2="253.80" y2="500.50" stroke="#5a3a25" stroke-width="1.2"/>
<text x="226.50" y="522.00" font-family='"Liberation Serif", serif' font-size="12.5" text-anchor="middle" font-weight="bold" font-style="normal" fill="#231f20" >456</text>
<text x="244.60" y="522.00" font-family='"Liberation Serif", serif' font-size="12.5" text-anchor="middle" font-weight="bold" font-style="normal" fill="#231f20" >7</text>
<text x="262.70" y="522.00" font-family='"Liberation Serif", serif' font-size="12.5" text-anchor="middle" font-weight="bold" font-style="normal" fill="#231f20" >8</text>
<polygon points="403.60,484.00 289.70,484.00 289.70,467.90 271.00,492.30 289.70,516.70 289.70,500.60 403.60,500.60" fill="#a06a45" stroke="#5e3e28" stroke-width="0.5" stroke-linejoin="miter"/>
<text x="278.30" y="496.32" font-family='"Liberation Sans", sans-serif' font-size="12" fill="#fff" font-weight="normal" textLength="28.70" lengthAdjust="spacingAndGlyphs">217696</text>
<text transform="translate(345.00 497.67) scale(0.85 1)" font-family='"Liberation Sans", sans-serif' font-size="15" fill="#fff" text-anchor="middle" font-weight="normal">D</text>
<line x1="64.60" y1="545.60" x2="228.95" y2="545.60" stroke="#8a8a8a" stroke-width="1.2"/>
<line x1="238.95" y1="545.60" x2="403.30" y2="545.60" stroke="#8a8a8a" stroke-width="1.2"/>
<line x1="229.35" y1="551.40" x2="233.35" y2="539.80" stroke="#8a8a8a" stroke-width="1.2"/>
<line x1="234.55" y1="551.40" x2="238.55" y2="539.80" stroke="#8a8a8a" stroke-width="1.2"/>
<line x1="64.60" y1="541.00" x2="64.60" y2="550.20" stroke="#8a8a8a" stroke-width="1.1"/>
<text transform="translate(65.10 535.20) scale(0.97 1)" font-family='"Liberation Serif", serif' font-size="14.5" text-anchor="middle" fill="#2b2b2b">80</text>
<line x1="98.47" y1="541.00" x2="98.47" y2="550.20" stroke="#8a8a8a" stroke-width="1.1"/>
<text transform="translate(98.97 535.20) scale(0.97 1)" font-family='"Liberation Serif", serif' font-size="14.5" text-anchor="middle" fill="#2b2b2b">81</text>
<line x1="132.34" y1="541.00" x2="132.34" y2="550.20" stroke="#8a8a8a" stroke-width="1.1"/>
<text transform="translate(132.84 535.20) scale(0.97 1)" font-family='"Liberation Serif", serif' font-size="14.5" text-anchor="middle" fill="#2b2b2b">82</text>
<line x1="166.21" y1="541.00" x2="166.21" y2="550.20" stroke="#8a8a8a" stroke-width="1.1"/>
<text transform="translate(166.71 535.20) scale(0.97 1)" font-family='"Liberation Serif", serif' font-size="14.5" text-anchor="middle" fill="#2b2b2b">83</text>
<line x1="200.08" y1="541.00" x2="200.08" y2="550.20" stroke="#8a8a8a" stroke-width="1.1"/>
<text transform="translate(200.58 535.20) scale(0.97 1)" font-family='"Liberation Serif", serif' font-size="14.5" text-anchor="middle" fill="#2b2b2b">84</text>
<line x1="267.82" y1="541.00" x2="267.82" y2="550.20" stroke="#8a8a8a" stroke-width="1.1"/>
<text transform="translate(271.92 535.20) scale(0.9 1)" font-family='"Liberation Serif", serif' font-size="14.5" text-anchor="middle" fill="#2b2b2b">116</text>
<line x1="301.69" y1="541.00" x2="301.69" y2="550.20" stroke="#8a8a8a" stroke-width="1.1"/>
<text transform="translate(305.59 535.20) scale(0.9 1)" font-family='"Liberation Serif", serif' font-size="14.5" text-anchor="middle" fill="#2b2b2b">117</text>
<line x1="335.56" y1="541.00" x2="335.56" y2="550.20" stroke="#8a8a8a" stroke-width="1.1"/>
<text transform="translate(339.66 535.20) scale(0.9 1)" font-family='"Liberation Serif", serif' font-size="14.5" text-anchor="middle" fill="#2b2b2b">118</text>
<line x1="369.43" y1="541.00" x2="369.43" y2="550.20" stroke="#8a8a8a" stroke-width="1.1"/>
<text transform="translate(373.53 535.20) scale(0.9 1)" font-family='"Liberation Serif", serif' font-size="14.5" text-anchor="middle" fill="#2b2b2b">119</text>
<line x1="403.30" y1="541.00" x2="403.30" y2="550.20" stroke="#8a8a8a" stroke-width="1.1"/>
<text transform="translate(407.60 535.20) scale(0.9 1)" font-family='"Liberation Serif", serif' font-size="14.5" text-anchor="middle" fill="#2b2b2b">120</text>
<rect x="64.60" y="568.60" width="130.80" height="16.80" fill="#a66e48" stroke="#5e3e28" stroke-width="0.5"/>
<text transform="translate(115.90 582.37) scale(0.85 1)" font-family='"Liberation Sans", sans-serif' font-size="15" fill="#fff" text-anchor="middle" font-weight="normal">D</text>
<text x="161.90" y="581.02" font-family='"Liberation Sans", sans-serif' font-size="12" fill="#fff" font-weight="normal" textLength="28.40" lengthAdjust="spacingAndGlyphs">209928</text>
<polygon points="403.50,568.60 213.60,568.60 213.60,552.50 195.40,577.00 213.60,601.50 213.60,585.40 403.50,585.40" fill="#7e5437" stroke="#5e3e28" stroke-width="0.5" stroke-linejoin="miter"/>
<text x="200.60" y="581.02" font-family='"Liberation Sans", sans-serif' font-size="12" fill="#fff" font-weight="normal" textLength="28.00" lengthAdjust="spacingAndGlyphs">343607</text>
<text transform="translate(303.30 582.37) scale(0.85 1)" font-family='"Liberation Sans", sans-serif' font-size="15" fill="#fff" text-anchor="middle" font-weight="normal">A</text>
<line x1="64.60" y1="630.30" x2="403.30" y2="630.30" stroke="#8a8a8a" stroke-width="1.2"/>
<line x1="64.60" y1="625.70" x2="64.60" y2="634.90" stroke="#8a8a8a" stroke-width="1.1"/>
<text transform="translate(65.10 619.90) scale(0.9 1)" font-family='"Liberation Serif", serif' font-size="14.5" text-anchor="middle" fill="#2b2b2b">120</text>
<line x1="98.47" y1="625.70" x2="98.47" y2="634.90" stroke="#8a8a8a" stroke-width="1.1"/>
<text transform="translate(98.97 619.90) scale(0.9 1)" font-family='"Liberation Serif", serif' font-size="14.5" text-anchor="middle" fill="#2b2b2b">121</text>
<line x1="132.34" y1="625.70" x2="132.34" y2="634.90" stroke="#8a8a8a" stroke-width="1.1"/>
<text transform="translate(132.84 619.90) scale(0.9 1)" font-family='"Liberation Serif", serif' font-size="14.5" text-anchor="middle" fill="#2b2b2b">122</text>
<line x1="166.21" y1="625.70" x2="166.21" y2="634.90" stroke="#8a8a8a" stroke-width="1.1"/>
<text transform="translate(166.71 619.90) scale(0.9 1)" font-family='"Liberation Serif", serif' font-size="14.5" text-anchor="middle" fill="#2b2b2b">123</text>
<line x1="200.08" y1="625.70" x2="200.08" y2="634.90" stroke="#8a8a8a" stroke-width="1.1"/>
<text transform="translate(200.58 619.90) scale(0.9 1)" font-family='"Liberation Serif", serif' font-size="14.5" text-anchor="middle" fill="#2b2b2b">124</text>
<line x1="233.95" y1="625.70" x2="233.95" y2="634.90" stroke="#8a8a8a" stroke-width="1.1"/>
<text transform="translate(234.45 619.90) scale(0.9 1)" font-family='"Liberation Serif", serif' font-size="14.5" text-anchor="middle" fill="#2b2b2b">125</text>
<line x1="267.82" y1="625.70" x2="267.82" y2="634.90" stroke="#8a8a8a" stroke-width="1.1"/>
<text transform="translate(268.32 619.90) scale(0.9 1)" font-family='"Liberation Serif", serif' font-size="14.5" text-anchor="middle" fill="#2b2b2b">126</text>
<line x1="301.69" y1="625.70" x2="301.69" y2="634.90" stroke="#8a8a8a" stroke-width="1.1"/>
<text transform="translate(302.19 619.90) scale(0.9 1)" font-family='"Liberation Serif", serif' font-size="14.5" text-anchor="middle" fill="#2b2b2b">127</text>
<line x1="335.56" y1="625.70" x2="335.56" y2="634.90" stroke="#8a8a8a" stroke-width="1.1"/>
<text transform="translate(336.06 619.90) scale(0.9 1)" font-family='"Liberation Serif", serif' font-size="14.5" text-anchor="middle" fill="#2b2b2b">128</text>
<line x1="369.43" y1="625.70" x2="369.43" y2="634.90" stroke="#8a8a8a" stroke-width="1.1"/>
<text transform="translate(369.93 619.90) scale(0.9 1)" font-family='"Liberation Serif", serif' font-size="14.5" text-anchor="middle" fill="#2b2b2b">129</text>
<line x1="403.30" y1="625.70" x2="403.30" y2="634.90" stroke="#8a8a8a" stroke-width="1.1"/>
<text transform="translate(403.80 619.90) scale(0.9 1)" font-family='"Liberation Serif", serif' font-size="14.5" text-anchor="middle" fill="#2b2b2b">130</text>
<rect x="64.60" y="653.50" width="305.70" height="16.80" fill="#80573a" stroke="#5e3e28" stroke-width="0.5"/>
<rect x="370.30" y="653.50" width="33.20" height="16.80" fill="#d08e5e" stroke="#5e3e28" stroke-width="0.5"/>
<text transform="translate(236.80 667.27) scale(0.85 1)" font-family='"Liberation Sans", sans-serif' font-size="15" fill="#fff" text-anchor="middle" font-weight="normal">A</text>
<text x="332.00" y="665.92" font-family='"Liberation Sans", sans-serif' font-size="12" fill="#fff" font-weight="normal" textLength="27.60" lengthAdjust="spacingAndGlyphs">298221</text>
<text x="371.70" y="664.91" font-family='"Liberation Sans", sans-serif' font-size="9" fill="#5a3a25" font-weight="normal" textLength="17.50" lengthAdjust="spacingAndGlyphs">111571</text>
<line x1="389.70" y1="646.70" x2="389.70" y2="675.20" stroke="#444" stroke-width="0.85"/>
<polyline points="118.70,646.90 125.40,653.50 132.10,646.90" fill="none" stroke="#231f20" stroke-width="1"/>
<text x="125.40" y="644.90" font-family='"Liberation Serif", serif' font-size="9.8" text-anchor="middle" font-weight="normal" font-style="normal" fill="#231f20" >-213</text>
<polyline points="354.6,646.2 370.3,653.50 386.5,646.2" fill="none" stroke="#231f20" stroke-width="1"/>
<text x="351" y="644" font-family='"Liberation Serif", serif' font-size="10.5" font-weight="bold" fill="#231f20" textLength="41" lengthAdjust="spacingAndGlyphs">+350 kbps</text>
<text x="392.00" y="650.55" font-family='"Liberation Sans", sans-serif' font-size="11.5" fill="#333" font-weight="normal" textLength="28.00" lengthAdjust="spacingAndGlyphs">112147</text>
<text x="392.00" y="680.85" font-family='"Liberation Sans", sans-serif' font-size="11.5" fill="#333" font-weight="normal" textLength="28.00" lengthAdjust="spacingAndGlyphs">297580</text>
<text transform="translate(412.20 666.91) scale(0.85 1)" font-family='"Liberation Sans", sans-serif' font-size="14" fill="#333" text-anchor="middle" font-weight="normal">III</text>
<text transform="translate(379.00 683.61) scale(0.85 1)" font-family='"Liberation Sans", sans-serif' font-size="14" fill="#333" text-anchor="middle" font-weight="normal">B</text>
<line x1="64.60" y1="715.00" x2="403.30" y2="715.00" stroke="#8a8a8a" stroke-width="1.2"/>
<line x1="64.60" y1="710.40" x2="64.60" y2="719.60" stroke="#8a8a8a" stroke-width="1.1"/>
<text transform="translate(65.10 704.60) scale(0.9 1)" font-family='"Liberation Serif", serif' font-size="14.5" text-anchor="middle" fill="#2b2b2b">130</text>
<line x1="98.47" y1="710.40" x2="98.47" y2="719.60" stroke="#8a8a8a" stroke-width="1.1"/>
<text transform="translate(98.97 704.60) scale(0.9 1)" font-family='"Liberation Serif", serif' font-size="14.5" text-anchor="middle" fill="#2b2b2b">131</text>
<line x1="132.34" y1="710.40" x2="132.34" y2="719.60" stroke="#8a8a8a" stroke-width="1.1"/>
<text transform="translate(132.84 704.60) scale(0.9 1)" font-family='"Liberation Serif", serif' font-size="14.5" text-anchor="middle" fill="#2b2b2b">132</text>
<line x1="166.21" y1="710.40" x2="166.21" y2="719.60" stroke="#8a8a8a" stroke-width="1.1"/>
<text transform="translate(166.71 704.60) scale(0.9 1)" font-family='"Liberation Serif", serif' font-size="14.5" text-anchor="middle" fill="#2b2b2b">133</text>
<line x1="200.08" y1="710.40" x2="200.08" y2="719.60" stroke="#8a8a8a" stroke-width="1.1"/>
<text transform="translate(200.58 704.60) scale(0.9 1)" font-family='"Liberation Serif", serif' font-size="14.5" text-anchor="middle" fill="#2b2b2b">134</text>
<line x1="233.95" y1="710.40" x2="233.95" y2="719.60" stroke="#8a8a8a" stroke-width="1.1"/>
<text transform="translate(234.45 704.60) scale(0.9 1)" font-family='"Liberation Serif", serif' font-size="14.5" text-anchor="middle" fill="#2b2b2b">135</text>
<line x1="267.82" y1="710.40" x2="267.82" y2="719.60" stroke="#8a8a8a" stroke-width="1.1"/>
<text transform="translate(268.32 704.60) scale(0.9 1)" font-family='"Liberation Serif", serif' font-size="14.5" text-anchor="middle" fill="#2b2b2b">136</text>
<line x1="301.69" y1="710.40" x2="301.69" y2="719.60" stroke="#8a8a8a" stroke-width="1.1"/>
<text transform="translate(302.19 704.60) scale(0.9 1)" font-family='"Liberation Serif", serif' font-size="14.5" text-anchor="middle" fill="#2b2b2b">137</text>
<line x1="335.56" y1="710.40" x2="335.56" y2="719.60" stroke="#8a8a8a" stroke-width="1.1"/>
<text transform="translate(336.06 704.60) scale(0.9 1)" font-family='"Liberation Serif", serif' font-size="14.5" text-anchor="middle" fill="#2b2b2b">138</text>
<line x1="369.43" y1="710.40" x2="369.43" y2="719.60" stroke="#8a8a8a" stroke-width="1.1"/>
<text transform="translate(369.93 704.60) scale(0.9 1)" font-family='"Liberation Serif", serif' font-size="14.5" text-anchor="middle" fill="#2b2b2b">139</text>
<line x1="403.30" y1="710.40" x2="403.30" y2="719.60" stroke="#8a8a8a" stroke-width="1.1"/>
<text transform="translate(403.80 704.60) scale(0.9 1)" font-family='"Liberation Serif", serif' font-size="14.5" text-anchor="middle" fill="#2b2b2b">140</text>
<rect x="64.60" y="738.00" width="338.90" height="17.00" fill="#d08a5a" stroke="#5e3e28" stroke-width="0.5"/>
<text transform="translate(156.60 751.87) scale(0.85 1)" font-family='"Liberation Sans", sans-serif' font-size="15" fill="#3a2a1e" text-anchor="middle" font-weight="normal">III</text>
<line x1="274.20" y1="731.70" x2="274.20" y2="760.20" stroke="#444" stroke-width="0.85"/>
<text x="243.40" y="735.22" font-family='"Liberation Sans", sans-serif' font-size="12" fill="#333" font-weight="normal" textLength="27.40" lengthAdjust="spacingAndGlyphs">118736</text>
<text x="243.40" y="766.42" font-family='"Liberation Sans", sans-serif' font-size="12" fill="#333" font-weight="normal" textLength="27.40" lengthAdjust="spacingAndGlyphs">290991</text>
<text x="277.60" y="750.52" font-family='"Liberation Sans", sans-serif' font-size="12" fill="#3a2a1e" font-weight="normal" textLength="27.40" lengthAdjust="spacingAndGlyphs">118737</text>
<text transform="translate(358.00 751.87) scale(0.85 1)" font-family='"Liberation Sans", sans-serif' font-size="15" fill="#3a2a1e" text-anchor="middle" font-weight="normal">C</text>
<polyline points="355.20,731.40 361.90,738.00 368.60,731.40" fill="none" stroke="#231f20" stroke-width="1"/>
<text x="361.90" y="729.40" font-family='"Liberation Serif", serif' font-size="9.8" text-anchor="middle" font-weight="normal" font-style="normal" fill="#231f20" >-51</text>
<line x1="64.60" y1="799.70" x2="228.95" y2="799.70" stroke="#8a8a8a" stroke-width="1.2"/>
<line x1="238.95" y1="799.70" x2="403.30" y2="799.70" stroke="#8a8a8a" stroke-width="1.2"/>
<line x1="229.35" y1="805.50" x2="233.35" y2="793.90" stroke="#8a8a8a" stroke-width="1.2"/>
<line x1="234.55" y1="805.50" x2="238.55" y2="793.90" stroke="#8a8a8a" stroke-width="1.2"/>
<line x1="64.60" y1="795.10" x2="64.60" y2="804.30" stroke="#8a8a8a" stroke-width="1.1"/>
<text transform="translate(65.10 789.30) scale(0.9 1)" font-family='"Liberation Serif", serif' font-size="14.5" text-anchor="middle" fill="#2b2b2b">140</text>
<line x1="98.47" y1="795.10" x2="98.47" y2="804.30" stroke="#8a8a8a" stroke-width="1.1"/>
<text transform="translate(98.97 789.30) scale(0.9 1)" font-family='"Liberation Serif", serif' font-size="14.5" text-anchor="middle" fill="#2b2b2b">141</text>
<line x1="132.34" y1="795.10" x2="132.34" y2="804.30" stroke="#8a8a8a" stroke-width="1.1"/>
<text transform="translate(132.84 789.30) scale(0.9 1)" font-family='"Liberation Serif", serif' font-size="14.5" text-anchor="middle" fill="#2b2b2b">142</text>
<line x1="166.21" y1="795.10" x2="166.21" y2="804.30" stroke="#8a8a8a" stroke-width="1.1"/>
<text transform="translate(166.71 789.30) scale(0.9 1)" font-family='"Liberation Serif", serif' font-size="14.5" text-anchor="middle" fill="#2b2b2b">143</text>
<line x1="200.08" y1="795.10" x2="200.08" y2="804.30" stroke="#8a8a8a" stroke-width="1.1"/>
<text transform="translate(200.58 789.30) scale(0.9 1)" font-family='"Liberation Serif", serif' font-size="14.5" text-anchor="middle" fill="#2b2b2b">144</text>
<line x1="267.82" y1="795.10" x2="267.82" y2="804.30" stroke="#8a8a8a" stroke-width="1.1"/>
<text transform="translate(268.32 789.30) scale(0.9 1)" font-family='"Liberation Serif", serif' font-size="14.5" text-anchor="middle" fill="#2b2b2b">156</text>
<line x1="301.69" y1="795.10" x2="301.69" y2="804.30" stroke="#8a8a8a" stroke-width="1.1"/>
<text transform="translate(302.19 789.30) scale(0.9 1)" font-family='"Liberation Serif", serif' font-size="14.5" text-anchor="middle" fill="#2b2b2b">157</text>
<line x1="335.56" y1="795.10" x2="335.56" y2="804.30" stroke="#8a8a8a" stroke-width="1.1"/>
<text transform="translate(336.06 789.30) scale(0.9 1)" font-family='"Liberation Serif", serif' font-size="14.5" text-anchor="middle" fill="#2b2b2b">158</text>
<line x1="369.43" y1="795.10" x2="369.43" y2="804.30" stroke="#8a8a8a" stroke-width="1.1"/>
<text transform="translate(369.93 789.30) scale(0.9 1)" font-family='"Liberation Serif", serif' font-size="14.5" text-anchor="middle" fill="#2b2b2b">159</text>
<line x1="403.30" y1="795.10" x2="403.30" y2="804.30" stroke="#8a8a8a" stroke-width="1.1"/>
<text transform="translate(403.80 789.30) scale(0.9 1)" font-family='"Liberation Serif", serif' font-size="14.5" text-anchor="middle" fill="#2b2b2b">160</text>
<rect x="64.60" y="822.70" width="338.90" height="17.00" fill="#cd8a5a" stroke="#5e3e28" stroke-width="0.5"/>
<text transform="translate(237.00 836.57) scale(0.85 1)" font-family='"Liberation Sans", sans-serif' font-size="15" fill="#3a2a1e" text-anchor="middle" font-weight="normal">C</text>
<polyline points="333.30,816.10 340.00,822.70 346.70,816.10" fill="none" stroke="#231f20" stroke-width="1"/>
<text x="340.00" y="814.10" font-family='"Liberation Serif", serif' font-size="9.8" text-anchor="middle" font-weight="normal" font-style="normal" fill="#231f20" >+50</text>
<line x1="64.60" y1="884.40" x2="403.30" y2="884.40" stroke="#8a8a8a" stroke-width="1.2"/>
<line x1="64.60" y1="879.80" x2="64.60" y2="889.00" stroke="#8a8a8a" stroke-width="1.1"/>
<text transform="translate(65.10 874.00) scale(0.9 1)" font-family='"Liberation Serif", serif' font-size="14.5" text-anchor="middle" fill="#2b2b2b">170</text>
<line x1="98.47" y1="879.80" x2="98.47" y2="889.00" stroke="#8a8a8a" stroke-width="1.1"/>
<text transform="translate(98.97 874.00) scale(0.9 1)" font-family='"Liberation Serif", serif' font-size="14.5" text-anchor="middle" fill="#2b2b2b">171</text>
<line x1="132.34" y1="879.80" x2="132.34" y2="889.00" stroke="#8a8a8a" stroke-width="1.1"/>
<text transform="translate(132.84 874.00) scale(0.9 1)" font-family='"Liberation Serif", serif' font-size="14.5" text-anchor="middle" fill="#2b2b2b">172</text>
<line x1="166.21" y1="879.80" x2="166.21" y2="889.00" stroke="#8a8a8a" stroke-width="1.1"/>
<text transform="translate(166.71 874.00) scale(0.9 1)" font-family='"Liberation Serif", serif' font-size="14.5" text-anchor="middle" fill="#2b2b2b">173</text>
<line x1="200.08" y1="879.80" x2="200.08" y2="889.00" stroke="#8a8a8a" stroke-width="1.1"/>
<text transform="translate(200.58 874.00) scale(0.9 1)" font-family='"Liberation Serif", serif' font-size="14.5" text-anchor="middle" fill="#2b2b2b">174</text>
<line x1="233.95" y1="879.80" x2="233.95" y2="889.00" stroke="#8a8a8a" stroke-width="1.1"/>
<text transform="translate(234.45 874.00) scale(0.9 1)" font-family='"Liberation Serif", serif' font-size="14.5" text-anchor="middle" fill="#2b2b2b">175</text>
<line x1="267.82" y1="879.80" x2="267.82" y2="889.00" stroke="#8a8a8a" stroke-width="1.1"/>
<text transform="translate(268.32 874.00) scale(0.9 1)" font-family='"Liberation Serif", serif' font-size="14.5" text-anchor="middle" fill="#2b2b2b">176</text>
<line x1="301.69" y1="879.80" x2="301.69" y2="889.00" stroke="#8a8a8a" stroke-width="1.1"/>
<text transform="translate(302.19 874.00) scale(0.9 1)" font-family='"Liberation Serif", serif' font-size="14.5" text-anchor="middle" fill="#2b2b2b">177</text>
<line x1="335.56" y1="879.80" x2="335.56" y2="889.00" stroke="#8a8a8a" stroke-width="1.1"/>
<text transform="translate(336.06 874.00) scale(0.9 1)" font-family='"Liberation Serif", serif' font-size="14.5" text-anchor="middle" fill="#2b2b2b">178</text>
<line x1="369.43" y1="879.80" x2="369.43" y2="889.00" stroke="#8a8a8a" stroke-width="1.1"/>
<text transform="translate(369.93 874.00) scale(0.9 1)" font-family='"Liberation Serif", serif' font-size="14.5" text-anchor="middle" fill="#2b2b2b">179</text>
<line x1="403.30" y1="879.80" x2="403.30" y2="889.00" stroke="#8a8a8a" stroke-width="1.1"/>
<text transform="translate(403.80 874.00) scale(0.9 1)" font-family='"Liberation Serif", serif' font-size="14.5" text-anchor="middle" fill="#2b2b2b">180</text>
<rect x="64.60" y="907.40" width="338.90" height="17.00" fill="#cd8a5a" stroke="#5e3e28" stroke-width="0.5"/>
<text transform="translate(236.80 921.27) scale(0.85 1)" font-family='"Liberation Sans", sans-serif' font-size="15" fill="#3a2a1e" text-anchor="middle" font-weight="normal">C</text>
<polyline points="186.80,900.80 193.50,907.40 200.20,900.80" fill="none" stroke="#231f20" stroke-width="1"/>
<text x="193.50" y="898.80" font-family='"Liberation Serif", serif' font-size="9.8" text-anchor="middle" font-weight="normal" font-style="normal" fill="#231f20" >+93</text>
<line x1="64.60" y1="969.10" x2="228.95" y2="969.10" stroke="#8a8a8a" stroke-width="1.2"/>
<line x1="238.95" y1="969.10" x2="403.30" y2="969.10" stroke="#8a8a8a" stroke-width="1.2"/>
<line x1="229.35" y1="974.90" x2="233.35" y2="963.30" stroke="#8a8a8a" stroke-width="1.2"/>
<line x1="234.55" y1="974.90" x2="238.55" y2="963.30" stroke="#8a8a8a" stroke-width="1.2"/>
<line x1="64.60" y1="964.50" x2="64.60" y2="973.70" stroke="#8a8a8a" stroke-width="1.1"/>
<text transform="translate(65.10 958.70) scale(0.9 1)" font-family='"Liberation Serif", serif' font-size="14.5" text-anchor="middle" fill="#2b2b2b">180</text>
<line x1="98.47" y1="964.50" x2="98.47" y2="973.70" stroke="#8a8a8a" stroke-width="1.1"/>
<text transform="translate(98.97 958.70) scale(0.9 1)" font-family='"Liberation Serif", serif' font-size="14.5" text-anchor="middle" fill="#2b2b2b">181</text>
<line x1="132.34" y1="964.50" x2="132.34" y2="973.70" stroke="#8a8a8a" stroke-width="1.1"/>
<text transform="translate(132.84 958.70) scale(0.9 1)" font-family='"Liberation Serif", serif' font-size="14.5" text-anchor="middle" fill="#2b2b2b">182</text>
<line x1="166.21" y1="964.50" x2="166.21" y2="973.70" stroke="#8a8a8a" stroke-width="1.1"/>
<text transform="translate(166.71 958.70) scale(0.9 1)" font-family='"Liberation Serif", serif' font-size="14.5" text-anchor="middle" fill="#2b2b2b">183</text>
<line x1="200.08" y1="964.50" x2="200.08" y2="973.70" stroke="#8a8a8a" stroke-width="1.1"/>
<text transform="translate(200.58 958.70) scale(0.9 1)" font-family='"Liberation Serif", serif' font-size="14.5" text-anchor="middle" fill="#2b2b2b">184</text>
<line x1="267.82" y1="964.50" x2="267.82" y2="973.70" stroke="#8a8a8a" stroke-width="1.1"/>
<text transform="translate(268.32 958.70) scale(0.9 1)" font-family='"Liberation Serif", serif' font-size="14.5" text-anchor="middle" fill="#2b2b2b">196</text>
<line x1="301.69" y1="964.50" x2="301.69" y2="973.70" stroke="#8a8a8a" stroke-width="1.1"/>
<text transform="translate(302.19 958.70) scale(0.9 1)" font-family='"Liberation Serif", serif' font-size="14.5" text-anchor="middle" fill="#2b2b2b">197</text>
<line x1="335.56" y1="964.50" x2="335.56" y2="973.70" stroke="#8a8a8a" stroke-width="1.1"/>
<text transform="translate(336.06 958.70) scale(0.9 1)" font-family='"Liberation Serif", serif' font-size="14.5" text-anchor="middle" fill="#2b2b2b">198</text>
<line x1="369.43" y1="964.50" x2="369.43" y2="973.70" stroke="#8a8a8a" stroke-width="1.1"/>
<text transform="translate(369.93 958.70) scale(0.9 1)" font-family='"Liberation Serif", serif' font-size="14.5" text-anchor="middle" fill="#2b2b2b">199</text>
<line x1="403.30" y1="964.50" x2="403.30" y2="973.70" stroke="#8a8a8a" stroke-width="1.1"/>
<text transform="translate(403.80 958.70) scale(0.9 1)" font-family='"Liberation Serif", serif' font-size="14.5" text-anchor="middle" fill="#2b2b2b">200</text>
<rect x="64.60" y="992.10" width="215.90" height="17.00" fill="#a66c46" stroke="#5e3e28" stroke-width="0.5"/>
<rect x="280.50" y="992.10" width="123.00" height="17.00" fill="#ee9e6a" stroke="#5e3e28" stroke-width="0.5"/>
<text transform="translate(164.00 1005.97) scale(0.85 1)" font-family='"Liberation Sans", sans-serif' font-size="15" fill="#3a2a1e" text-anchor="middle" font-weight="normal">C</text>
<text x="246.80" y="1004.62" font-family='"Liberation Sans", sans-serif' font-size="12" fill="#3a2a1e" font-weight="normal" textLength="27.40" lengthAdjust="spacingAndGlyphs">178862</text>
<text transform="translate(338.40 1005.97) scale(0.85 1)" font-family='"Liberation Sans", sans-serif' font-size="15" fill="#3a2a1e" text-anchor="middle" font-weight="normal">I</text>
<line x1="280.50" y1="985.50" x2="280.50" y2="1014.00" stroke="#444" stroke-width="0.85"/>
<text x="283.30" y="989.62" font-family='"Liberation Sans", sans-serif' font-size="12" fill="#333" font-weight="normal" textLength="27.30" lengthAdjust="spacingAndGlyphs">178863</text>
<text x="282.00" y="1019.82" font-family='"Liberation Sans", sans-serif' font-size="12" fill="#333" font-weight="normal" textLength="24.00" lengthAdjust="spacingAndGlyphs">44698</text>
<polyline points="65.90,985.50 72.60,992.10 79.30,985.50" fill="none" stroke="#231f20" stroke-width="1"/>
<text x="72.60" y="983.50" font-family='"Liberation Serif", serif' font-size="9.8" text-anchor="middle" font-weight="normal" font-style="normal" fill="#231f20" >-70</text>
<line x1="64.60" y1="1053.80" x2="228.95" y2="1053.80" stroke="#8a8a8a" stroke-width="1.2"/>
<line x1="238.95" y1="1053.80" x2="403.30" y2="1053.80" stroke="#8a8a8a" stroke-width="1.2"/>
<line x1="229.35" y1="1059.60" x2="233.35" y2="1048.00" stroke="#8a8a8a" stroke-width="1.2"/>
<line x1="234.55" y1="1059.60" x2="238.55" y2="1048.00" stroke="#8a8a8a" stroke-width="1.2"/>
<line x1="64.60" y1="1049.20" x2="64.60" y2="1058.40" stroke="#8a8a8a" stroke-width="1.1"/>
<text transform="translate(65.10 1043.40) scale(0.9 1)" font-family='"Liberation Serif", serif' font-size="14.5" text-anchor="middle" fill="#2b2b2b">200</text>
<line x1="98.47" y1="1049.20" x2="98.47" y2="1058.40" stroke="#8a8a8a" stroke-width="1.1"/>
<text transform="translate(98.97 1043.40) scale(0.9 1)" font-family='"Liberation Serif", serif' font-size="14.5" text-anchor="middle" fill="#2b2b2b">201</text>
<line x1="132.34" y1="1049.20" x2="132.34" y2="1058.40" stroke="#8a8a8a" stroke-width="1.1"/>
<text transform="translate(132.84 1043.40) scale(0.9 1)" font-family='"Liberation Serif", serif' font-size="14.5" text-anchor="middle" fill="#2b2b2b">202</text>
<line x1="166.21" y1="1049.20" x2="166.21" y2="1058.40" stroke="#8a8a8a" stroke-width="1.1"/>
<text transform="translate(166.71 1043.40) scale(0.9 1)" font-family='"Liberation Serif", serif' font-size="14.5" text-anchor="middle" fill="#2b2b2b">203</text>
<line x1="200.08" y1="1049.20" x2="200.08" y2="1058.40" stroke="#8a8a8a" stroke-width="1.1"/>
<text transform="translate(200.58 1043.40) scale(0.9 1)" font-family='"Liberation Serif", serif' font-size="14.5" text-anchor="middle" fill="#2b2b2b">204</text>
<line x1="267.82" y1="1049.20" x2="267.82" y2="1058.40" stroke="#8a8a8a" stroke-width="1.1"/>
<text transform="translate(268.32 1043.40) scale(0.9 1)" font-family='"Liberation Serif", serif' font-size="14.5" text-anchor="middle" fill="#2b2b2b">226</text>
<line x1="301.69" y1="1049.20" x2="301.69" y2="1058.40" stroke="#8a8a8a" stroke-width="1.1"/>
<text transform="translate(302.19 1043.40) scale(0.9 1)" font-family='"Liberation Serif", serif' font-size="14.5" text-anchor="middle" fill="#2b2b2b">227</text>
<line x1="335.56" y1="1049.20" x2="335.56" y2="1058.40" stroke="#8a8a8a" stroke-width="1.1"/>
<text transform="translate(336.06 1043.40) scale(0.9 1)" font-family='"Liberation Serif", serif' font-size="14.5" text-anchor="middle" fill="#2b2b2b">228</text>
<line x1="369.43" y1="1049.20" x2="369.43" y2="1058.40" stroke="#8a8a8a" stroke-width="1.1"/>
<text transform="translate(369.93 1043.40) scale(0.9 1)" font-family='"Liberation Serif", serif' font-size="14.5" text-anchor="middle" fill="#2b2b2b">229</text>
<line x1="403.30" y1="1049.20" x2="403.30" y2="1058.40" stroke="#8a8a8a" stroke-width="1.1"/>
<text transform="translate(403.80 1043.40) scale(0.9 1)" font-family='"Liberation Serif", serif' font-size="14.5" text-anchor="middle" fill="#2b2b2b">230</text>
<rect x="64.60" y="1076.80" width="338.90" height="17.00" fill="#ee9c68" stroke="#5e3e28" stroke-width="0.5"/>
<text transform="translate(72.00 1090.67) scale(0.85 1)" font-family='"Liberation Sans", sans-serif' font-size="15" fill="#3a2a1e" text-anchor="middle" font-weight="normal">I</text>
<line x1="84.20" y1="1070.50" x2="84.20" y2="1099.70" stroke="#444" stroke-width="0.85"/>
<text x="51.90" y="1074.52" font-family='"Liberation Sans", sans-serif' font-size="12" fill="#333" font-weight="normal" textLength="27.80" lengthAdjust="spacingAndGlyphs">183059</text>
<text x="56.40" y="1104.92" font-family='"Liberation Sans", sans-serif' font-size="12" fill="#333" font-weight="normal" textLength="23.30" lengthAdjust="spacingAndGlyphs">48894</text>
<text x="89.00" y="1089.32" font-family='"Liberation Sans", sans-serif' font-size="12" fill="#3a2a1e" font-weight="normal" textLength="24.00" lengthAdjust="spacingAndGlyphs">48895</text>
<text transform="translate(236.80 1090.67) scale(0.85 1)" font-family='"Liberation Sans", sans-serif' font-size="15" fill="#3a2a1e" text-anchor="middle" font-weight="normal">B</text>
<line x1="64.60" y1="1138.50" x2="144.27" y2="1138.50" stroke="#8a8a8a" stroke-width="1.2"/>
<line x1="154.27" y1="1138.50" x2="403.30" y2="1138.50" stroke="#8a8a8a" stroke-width="1.2"/>
<line x1="144.67" y1="1144.30" x2="148.67" y2="1132.70" stroke="#8a8a8a" stroke-width="1.2"/>
<line x1="149.87" y1="1144.30" x2="153.87" y2="1132.70" stroke="#8a8a8a" stroke-width="1.2"/>
<line x1="64.60" y1="1133.90" x2="64.60" y2="1143.10" stroke="#8a8a8a" stroke-width="1.1"/>
<text transform="translate(65.10 1128.10) scale(0.9 1)" font-family='"Liberation Serif", serif' font-size="14.5" text-anchor="middle" fill="#2b2b2b">230</text>
<line x1="98.47" y1="1133.90" x2="98.47" y2="1143.10" stroke="#8a8a8a" stroke-width="1.1"/>
<text transform="translate(98.97 1128.10) scale(0.9 1)" font-family='"Liberation Serif", serif' font-size="14.5" text-anchor="middle" fill="#2b2b2b">231</text>
<line x1="132.34" y1="1133.90" x2="132.34" y2="1143.10" stroke="#8a8a8a" stroke-width="1.1"/>
<text transform="translate(132.84 1128.10) scale(0.9 1)" font-family='"Liberation Serif", serif' font-size="14.5" text-anchor="middle" fill="#2b2b2b">232</text>
<line x1="166.21" y1="1133.90" x2="166.21" y2="1143.10" stroke="#8a8a8a" stroke-width="1.1"/>
<text transform="translate(166.71 1128.10) scale(0.9 1)" font-family='"Liberation Serif", serif' font-size="14.5" text-anchor="middle" fill="#2b2b2b">263</text>
<line x1="200.08" y1="1133.90" x2="200.08" y2="1143.10" stroke="#8a8a8a" stroke-width="1.1"/>
<text transform="translate(200.58 1128.10) scale(0.9 1)" font-family='"Liberation Serif", serif' font-size="14.5" text-anchor="middle" fill="#2b2b2b">264</text>
<line x1="233.95" y1="1133.90" x2="233.95" y2="1143.10" stroke="#8a8a8a" stroke-width="1.1"/>
<text transform="translate(234.45 1128.10) scale(0.9 1)" font-family='"Liberation Serif", serif' font-size="14.5" text-anchor="middle" fill="#2b2b2b">265</text>
<line x1="267.82" y1="1133.90" x2="267.82" y2="1143.10" stroke="#8a8a8a" stroke-width="1.1"/>
<text transform="translate(268.32 1128.10) scale(0.9 1)" font-family='"Liberation Serif", serif' font-size="14.5" text-anchor="middle" fill="#2b2b2b">266</text>
<line x1="301.69" y1="1133.90" x2="301.69" y2="1143.10" stroke="#8a8a8a" stroke-width="1.1"/>
<text transform="translate(302.19 1128.10) scale(0.9 1)" font-family='"Liberation Serif", serif' font-size="14.5" text-anchor="middle" fill="#2b2b2b">267</text>
<line x1="335.56" y1="1133.90" x2="335.56" y2="1143.10" stroke="#8a8a8a" stroke-width="1.1"/>
<text transform="translate(336.06 1128.10) scale(0.9 1)" font-family='"Liberation Serif", serif' font-size="14.5" text-anchor="middle" fill="#2b2b2b">268</text>
<line x1="369.43" y1="1133.90" x2="369.43" y2="1143.10" stroke="#8a8a8a" stroke-width="1.1"/>
<text transform="translate(369.93 1128.10) scale(0.9 1)" font-family='"Liberation Serif", serif' font-size="14.5" text-anchor="middle" fill="#2b2b2b">269</text>
<line x1="403.30" y1="1133.90" x2="403.30" y2="1143.10" stroke="#8a8a8a" stroke-width="1.1"/>
<text transform="translate(403.80 1128.10) scale(0.9 1)" font-family='"Liberation Serif", serif' font-size="14.5" text-anchor="middle" fill="#2b2b2b">270</text>
<rect x="64.60" y="1161.50" width="338.90" height="17.00" fill="#d88e5e" stroke="#5e3e28" stroke-width="0.5"/>
<text transform="translate(124.30 1175.37) scale(0.85 1)" font-family='"Liberation Sans", sans-serif' font-size="15" fill="#3a2a1e" text-anchor="middle" font-weight="normal">B</text>
<text x="161.20" y="1174.02" font-family='"Liberation Sans", sans-serif' font-size="12" fill="#3a2a1e" font-weight="normal" textLength="27.40" lengthAdjust="spacingAndGlyphs">112146</text>
<line x1="192.40" y1="1155.00" x2="192.40" y2="1184.00" stroke="#444" stroke-width="0.85"/>
<text x="194.30" y="1159.62" font-family='"Liberation Sans", sans-serif' font-size="12" fill="#333" font-weight="normal" textLength="27.40" lengthAdjust="spacingAndGlyphs">112147</text>
<text x="194.30" y="1189.02" font-family='"Liberation Sans", sans-serif' font-size="12" fill="#333" font-weight="normal" textLength="27.40" lengthAdjust="spacingAndGlyphs">297580</text>
<text transform="translate(302.50 1175.37) scale(0.85 1)" font-family='"Liberation Sans", sans-serif' font-size="15" fill="#3a2a1e" text-anchor="middle" font-weight="normal">III</text>
<polyline points="67.50,1154.90 74.20,1161.50 80.90,1154.90" fill="none" stroke="#231f20" stroke-width="1"/>
<text x="74.20" y="1152.90" font-family='"Liberation Serif", serif' font-size="9.8" text-anchor="middle" font-weight="normal" font-style="normal" fill="#231f20" >-48</text>
<line x1="64.60" y1="1223.20" x2="98.47" y2="1223.20" stroke="#8a8a8a" stroke-width="1.2"/>
<line x1="64.60" y1="1218.20" x2="64.60" y2="1228.20" stroke="#8a8a8a" stroke-width="1.1"/>
<text transform="translate(65.10 1212.80) scale(0.9 1)" font-family='"Liberation Serif", serif' font-size="14.5" text-anchor="middle" fill="#2b2b2b">270</text>
<line x1="98.47" y1="1218.20" x2="98.47" y2="1228.20" stroke="#8a8a8a" stroke-width="1.1"/>
<text transform="translate(98.97 1212.80) scale(0.9 1)" font-family='"Liberation Serif", serif' font-size="14.5" text-anchor="middle" fill="#2b2b2b">271</text>
<polygon points="65.60,1247.40 66.80,1247.40 66.80,1230.50 77.00,1255.00 66.80,1279.30 66.80,1262.60 65.60,1262.60" fill="#d08c5c" stroke="#8a5e40" stroke-width="0.5" stroke-linejoin="miter"/>
<polygon points="92.90,1247.40 90.60,1247.40 90.60,1230.50 77.00,1255.00 90.60,1279.30 90.60,1262.60 92.90,1262.60" fill="#8b5a3a" stroke="#5e3e28" stroke-width="0.5" stroke-linejoin="miter"/>
<line x1="76.50" y1="1240.00" x2="76.50" y2="1268.60" stroke="#9aa3ad" stroke-width="1"/>
<text x="34.10" y="1252.82" font-family='"Liberation Sans", sans-serif' font-size="12" fill="#333" font-weight="normal" textLength="27.40" lengthAdjust="spacingAndGlyphs">118736</text>
<text x="34.10" y="1267.32" font-family='"Liberation Sans", sans-serif' font-size="12" fill="#333" font-weight="normal" textLength="27.40" lengthAdjust="spacingAndGlyphs">290991</text>
<text x="95" y="1259.20" font-family='"Liberation Sans", sans-serif' font-size="12" fill="#333" font-weight="bold">D</text>
<text x="106.60" y="1259.02" font-family='"Liberation Sans", sans-serif' font-size="12" fill="#333" font-weight="normal" textLength="64.20" lengthAdjust="spacingAndGlyphs">(290990-290530)</text>
<line x1="501.35" y1="377.40" x2="839.85" y2="377.40" stroke="#8a8a8a" stroke-width="1.2"/>
<line x1="501.35" y1="372.80" x2="501.35" y2="382.00" stroke="#8a8a8a" stroke-width="1.1"/>
<text transform="translate(501.85 367.00) scale(0.97 1)" font-family='"Liberation Serif", serif' font-size="14.5" text-anchor="middle" fill="#2b2b2b">0</text>
<line x1="535.20" y1="372.80" x2="535.20" y2="382.00" stroke="#8a8a8a" stroke-width="1.1"/>
<text transform="translate(535.70 367.00) scale(0.97 1)" font-family='"Liberation Serif", serif' font-size="14.5" text-anchor="middle" fill="#2b2b2b">1</text>
<line x1="569.05" y1="372.80" x2="569.05" y2="382.00" stroke="#8a8a8a" stroke-width="1.1"/>
<text transform="translate(569.55 367.00) scale(0.97 1)" font-family='"Liberation Serif", serif' font-size="14.5" text-anchor="middle" fill="#2b2b2b">2</text>
<line x1="602.90" y1="372.80" x2="602.90" y2="382.00" stroke="#8a8a8a" stroke-width="1.1"/>
<text transform="translate(603.40 367.00) scale(0.97 1)" font-family='"Liberation Serif", serif' font-size="14.5" text-anchor="middle" fill="#2b2b2b">3</text>
<line x1="636.75" y1="372.80" x2="636.75" y2="382.00" stroke="#8a8a8a" stroke-width="1.1"/>
<text transform="translate(637.25 367.00) scale(0.97 1)" font-family='"Liberation Serif", serif' font-size="14.5" text-anchor="middle" fill="#2b2b2b">4</text>
<line x1="670.60" y1="372.80" x2="670.60" y2="382.00" stroke="#8a8a8a" stroke-width="1.1"/>
<text transform="translate(671.10 367.00) scale(0.97 1)" font-family='"Liberation Serif", serif' font-size="14.5" text-anchor="middle" fill="#2b2b2b">5</text>
<line x1="704.45" y1="372.80" x2="704.45" y2="382.00" stroke="#8a8a8a" stroke-width="1.1"/>
<text transform="translate(704.95 367.00) scale(0.97 1)" font-family='"Liberation Serif", serif' font-size="14.5" text-anchor="middle" fill="#2b2b2b">6</text>
<line x1="738.30" y1="372.80" x2="738.30" y2="382.00" stroke="#8a8a8a" stroke-width="1.1"/>
<text transform="translate(738.80 367.00) scale(0.97 1)" font-family='"Liberation Serif", serif' font-size="14.5" text-anchor="middle" fill="#2b2b2b">7</text>
<line x1="772.15" y1="372.80" x2="772.15" y2="382.00" stroke="#8a8a8a" stroke-width="1.1"/>
<text transform="translate(772.65 367.00) scale(0.97 1)" font-family='"Liberation Serif", serif' font-size="14.5" text-anchor="middle" fill="#2b2b2b">8</text>
<line x1="806.00" y1="372.80" x2="806.00" y2="382.00" stroke="#8a8a8a" stroke-width="1.1"/>
<text transform="translate(806.50 367.00) scale(0.97 1)" font-family='"Liberation Serif", serif' font-size="14.5" text-anchor="middle" fill="#2b2b2b">9</text>
<line x1="839.85" y1="372.80" x2="839.85" y2="382.00" stroke="#8a8a8a" stroke-width="1.1"/>
<text transform="translate(840.35 367.00) scale(0.97 1)" font-family='"Liberation Serif", serif' font-size="14.5" text-anchor="middle" fill="#2b2b2b">10</text>
<polygon points="501.40,400.40 651.30,400.40 651.30,384.30 670.60,408.70 651.30,433.10 651.30,417.00 501.40,417.00" fill="#9c6843" stroke="#5e3e28" stroke-width="0.5" stroke-linejoin="miter"/>
<text x="562.80" y="412.72" font-family='"Liberation Sans", sans-serif' font-size="12" fill="#fff" font-weight="normal" textLength="59.40" lengthAdjust="spacingAndGlyphs">268620-273647</text>
<line x1="670.60" y1="408.70" x2="703.20" y2="408.70" stroke="#111" stroke-width="3.2"/>
<text x="687.00" y="402.50" font-family='"Liberation Serif", serif' font-size="12.5" text-anchor="middle" font-weight="bold" font-style="normal" fill="#231f20" >i1</text>
<polygon points="839.70,400.40 723.50,400.40 723.50,384.30 703.20,408.70 723.50,433.10 723.50,417.00 839.70,417.00" fill="#9c6843" stroke="#5e3e28" stroke-width="0.5" stroke-linejoin="miter"/>
<text x="721.00" y="412.72" font-family='"Liberation Sans", sans-serif' font-size="12" fill="#fff" font-weight="normal" textLength="27.30" lengthAdjust="spacingAndGlyphs">262601</text>
<polyline points="734.80,393.80 741.50,400.40 748.20,393.80" fill="none" stroke="#231f20" stroke-width="1"/>
<text x="741.50" y="391.80" font-family='"Liberation Serif", serif' font-size="9.8" text-anchor="middle" font-weight="normal" font-style="normal" fill="#231f20" >-19</text>
<polyline points="766.80,393.80 773.50,400.40 780.20,393.80" fill="none" stroke="#231f20" stroke-width="1"/>
<text x="773.50" y="391.80" font-family='"Liberation Serif", serif' font-size="9.8" text-anchor="middle" font-weight="normal" font-style="normal" fill="#231f20" >+11</text>
<polyline points="820.80,393.80 827.50,400.40 834.20,393.80" fill="none" stroke="#231f20" stroke-width="1"/>
<text x="827.50" y="391.80" font-family='"Liberation Serif", serif' font-size="9.8" text-anchor="middle" font-weight="normal" font-style="normal" fill="#231f20" >-23</text>
<line x1="501.35" y1="461.70" x2="839.85" y2="461.70" stroke="#8a8a8a" stroke-width="1.2"/>
<line x1="501.35" y1="457.10" x2="501.35" y2="466.30" stroke="#8a8a8a" stroke-width="1.1"/>
<text transform="translate(501.85 451.30) scale(0.97 1)" font-family='"Liberation Serif", serif' font-size="14.5" text-anchor="middle" fill="#2b2b2b">10</text>
<line x1="535.20" y1="457.10" x2="535.20" y2="466.30" stroke="#8a8a8a" stroke-width="1.1"/>
<text transform="translate(535.70 451.30) scale(0.97 1)" font-family='"Liberation Serif", serif' font-size="14.5" text-anchor="middle" fill="#2b2b2b">11</text>
<line x1="569.05" y1="457.10" x2="569.05" y2="466.30" stroke="#8a8a8a" stroke-width="1.1"/>
<text transform="translate(569.55 451.30) scale(0.97 1)" font-family='"Liberation Serif", serif' font-size="14.5" text-anchor="middle" fill="#2b2b2b">12</text>
<line x1="602.90" y1="457.10" x2="602.90" y2="466.30" stroke="#8a8a8a" stroke-width="1.1"/>
<text transform="translate(603.40 451.30) scale(0.97 1)" font-family='"Liberation Serif", serif' font-size="14.5" text-anchor="middle" fill="#2b2b2b">13</text>
<line x1="636.75" y1="457.10" x2="636.75" y2="466.30" stroke="#8a8a8a" stroke-width="1.1"/>
<text transform="translate(637.25 451.30) scale(0.97 1)" font-family='"Liberation Serif", serif' font-size="14.5" text-anchor="middle" fill="#2b2b2b">14</text>
<line x1="670.60" y1="457.10" x2="670.60" y2="466.30" stroke="#8a8a8a" stroke-width="1.1"/>
<text transform="translate(671.10 451.30) scale(0.97 1)" font-family='"Liberation Serif", serif' font-size="14.5" text-anchor="middle" fill="#2b2b2b">15</text>
<line x1="704.45" y1="457.10" x2="704.45" y2="466.30" stroke="#8a8a8a" stroke-width="1.1"/>
<text transform="translate(704.95 451.30) scale(0.97 1)" font-family='"Liberation Serif", serif' font-size="14.5" text-anchor="middle" fill="#2b2b2b">16</text>
<line x1="738.30" y1="457.10" x2="738.30" y2="466.30" stroke="#8a8a8a" stroke-width="1.1"/>
<text transform="translate(738.80 451.30) scale(0.97 1)" font-family='"Liberation Serif", serif' font-size="14.5" text-anchor="middle" fill="#2b2b2b">17</text>
<line x1="772.15" y1="457.10" x2="772.15" y2="466.30" stroke="#8a8a8a" stroke-width="1.1"/>
<text transform="translate(772.65 451.30) scale(0.97 1)" font-family='"Liberation Serif", serif' font-size="14.5" text-anchor="middle" fill="#2b2b2b">18</text>
<line x1="806.00" y1="457.10" x2="806.00" y2="466.30" stroke="#8a8a8a" stroke-width="1.1"/>
<text transform="translate(806.50 451.30) scale(0.97 1)" font-family='"Liberation Serif", serif' font-size="14.5" text-anchor="middle" fill="#2b2b2b">19</text>
<line x1="839.85" y1="457.10" x2="839.85" y2="466.30" stroke="#8a8a8a" stroke-width="1.1"/>
<text transform="translate(840.35 451.30) scale(0.97 1)" font-family='"Liberation Serif", serif' font-size="14.5" text-anchor="middle" fill="#2b2b2b">20</text>
<rect x="501.20" y="485.40" width="23.20" height="16.20" fill="#a56d47" stroke="#5e3e28" stroke-width="0.5"/>
<text x="501.80" y="497.19" font-family='"Liberation Sans", sans-serif' font-size="11" fill="#fff" font-weight="normal" textLength="21.70" lengthAdjust="spacingAndGlyphs">257824</text>
<polygon points="524.40,485.40 670.90,485.40 670.90,469.50 689.30,493.50 670.90,517.50 670.90,501.60 524.40,501.60" fill="#8f5b38" stroke="#5e3e28" stroke-width="0.5" stroke-linejoin="miter"/>
<line x1="524.40" y1="485.40" x2="524.40" y2="501.60" stroke="#5a3a25" stroke-width="1.2"/>
<text x="527.80" y="497.52" font-family='"Liberation Sans", sans-serif' font-size="12" fill="#fff" font-weight="normal" textLength="28.50" lengthAdjust="spacingAndGlyphs">307350</text>
<text x="649.70" y="497.52" font-family='"Liberation Sans", sans-serif' font-size="12" fill="#fff" font-weight="normal" textLength="28.00" lengthAdjust="spacingAndGlyphs">312464</text>
<polyline points="509.70,478.80 516.40,485.40 523.10,478.80" fill="none" stroke="#231f20" stroke-width="1"/>
<text x="516.40" y="476.80" font-family='"Liberation Serif", serif' font-size="9.8" text-anchor="middle" font-weight="normal" font-style="normal" fill="#231f20" >+12</text>
<polyline points="614.50,478.80 621.20,485.40 627.90,478.80" fill="none" stroke="#231f20" stroke-width="1"/>
<text x="621.20" y="476.80" font-family='"Liberation Serif", serif' font-size="9.8" text-anchor="middle" font-weight="normal" font-style="normal" fill="#231f20" >-202</text>
<polyline points="653.70,478.80 660.40,485.40 667.10,478.80" fill="none" stroke="#231f20" stroke-width="1"/>
<text x="660.40" y="476.80" font-family='"Liberation Serif", serif' font-size="9.8" text-anchor="middle" font-weight="normal" font-style="normal" fill="#231f20" >-37</text>
<line x1="689.30" y1="493.50" x2="698.50" y2="493.50" stroke="#111" stroke-width="3.2"/>
<polygon points="833.00,485.00 721.60,485.00 721.60,469.10 698.50,493.50 721.60,517.90 721.60,502.00 833.00,502.00" fill="#cf8c5c" stroke="#5e3e28" stroke-width="0.5" stroke-linejoin="miter"/>
<rect x="833.00" y="485.00" width="7.00" height="17.00" fill="#a06a44" stroke="#5e3e28" stroke-width="0.5"/>
<line x1="833.00" y1="478.30" x2="833.00" y2="508.10" stroke="#444" stroke-width="0.85"/>
<text x="727.50" y="481.62" font-family='"Liberation Sans", sans-serif' font-size="12" fill="#333" font-weight="normal" textLength="28.10" lengthAdjust="spacingAndGlyphs">164494</text>
<text x="727.50" y="513.92" font-family='"Liberation Sans", sans-serif' font-size="12" fill="#333" font-weight="normal" textLength="28.10" lengthAdjust="spacingAndGlyphs">487595</text>
<polyline points="773.70,478.40 780.40,485.00 787.10,478.40" fill="none" stroke="#231f20" stroke-width="1"/>
<text x="780.40" y="476.40" font-family='"Liberation Serif", serif' font-size="9.8" text-anchor="middle" font-weight="normal" font-style="normal" fill="#231f20" >-114</text>
<text x="803.50" y="481.62" font-family='"Liberation Sans", sans-serif' font-size="12" fill="#333" font-weight="normal" textLength="27.30" lengthAdjust="spacingAndGlyphs">160374</text>
<text x="802.70" y="513.92" font-family='"Liberation Sans", sans-serif' font-size="12" fill="#333" font-weight="normal" textLength="28.60" lengthAdjust="spacingAndGlyphs">483475</text>
<text x="836.80" y="481.62" font-family='"Liberation Sans", sans-serif' font-size="12" fill="#333" font-weight="normal" textLength="28.00" lengthAdjust="spacingAndGlyphs">279450</text>
<text x="836.80" y="513.92" font-family='"Liberation Sans", sans-serif' font-size="12" fill="#333" font-weight="normal" textLength="27.20" lengthAdjust="spacingAndGlyphs">410371</text>
<line x1="501.35" y1="547.20" x2="738.30" y2="547.20" stroke="#8a8a8a" stroke-width="1.2"/>
<line x1="501.35" y1="542.60" x2="501.35" y2="551.80" stroke="#8a8a8a" stroke-width="1.1"/>
<text transform="translate(501.85 536.80) scale(0.97 1)" font-family='"Liberation Serif", serif' font-size="14.5" text-anchor="middle" fill="#2b2b2b">20</text>
<line x1="535.20" y1="542.60" x2="535.20" y2="551.80" stroke="#8a8a8a" stroke-width="1.1"/>
<text transform="translate(535.70 536.80) scale(0.97 1)" font-family='"Liberation Serif", serif' font-size="14.5" text-anchor="middle" fill="#2b2b2b">21</text>
<line x1="569.05" y1="542.60" x2="569.05" y2="551.80" stroke="#8a8a8a" stroke-width="1.1"/>
<text transform="translate(569.55 536.80) scale(0.97 1)" font-family='"Liberation Serif", serif' font-size="14.5" text-anchor="middle" fill="#2b2b2b">22</text>
<line x1="602.90" y1="542.60" x2="602.90" y2="551.80" stroke="#8a8a8a" stroke-width="1.1"/>
<text transform="translate(603.40 536.80) scale(0.97 1)" font-family='"Liberation Serif", serif' font-size="14.5" text-anchor="middle" fill="#2b2b2b">23</text>
<line x1="636.75" y1="542.60" x2="636.75" y2="551.80" stroke="#8a8a8a" stroke-width="1.1"/>
<text transform="translate(637.25 536.80) scale(0.97 1)" font-family='"Liberation Serif", serif' font-size="14.5" text-anchor="middle" fill="#2b2b2b">24</text>
<line x1="670.60" y1="542.60" x2="670.60" y2="551.80" stroke="#8a8a8a" stroke-width="1.1"/>
<text transform="translate(671.10 536.80) scale(0.97 1)" font-family='"Liberation Serif", serif' font-size="14.5" text-anchor="middle" fill="#2b2b2b">25</text>
<line x1="704.45" y1="542.60" x2="704.45" y2="551.80" stroke="#8a8a8a" stroke-width="1.1"/>
<text transform="translate(704.95 536.80) scale(0.97 1)" font-family='"Liberation Serif", serif' font-size="14.5" text-anchor="middle" fill="#2b2b2b">26</text>
<line x1="738.30" y1="542.60" x2="738.30" y2="551.80" stroke="#8a8a8a" stroke-width="1.1"/>
<text transform="translate(738.80 536.80) scale(0.97 1)" font-family='"Liberation Serif", serif' font-size="14.5" text-anchor="middle" fill="#2b2b2b">27</text>
<polygon points="501.40,570.40 526.20,570.40 526.20,554.10 539.50,578.50 526.20,602.90 526.20,586.60 501.40,586.60" fill="#a86e46" stroke="#5e3e28" stroke-width="0.5" stroke-linejoin="miter"/>
<text transform="translate(517.50 583.87) scale(0.85 1)" font-family='"Liberation Sans", sans-serif' font-size="15" fill="#fff" text-anchor="middle" font-weight="normal">IV</text>
<line x1="539.50" y1="578.50" x2="640.40" y2="578.50" stroke="#111" stroke-width="3.6"/>
<text x="591.00" y="573.50" font-family='"Liberation Serif", serif' font-size="12.5" text-anchor="middle" font-weight="bold" font-style="normal" fill="#231f20" >i2</text>
<rect x="640.10" y="570.35" width="57.30" height="16.30" fill="#c08259" stroke="#5e3e28" stroke-width="0.5"/>
<text transform="translate(666.90 583.87) scale(0.85 1)" font-family='"Liberation Sans", sans-serif' font-size="15" fill="#fff" text-anchor="middle" font-weight="normal">IV</text>
<polygon points="697.40,570.35 704.00,570.35 704.00,554.10 729.20,578.50 704.00,602.90 704.00,586.65 697.40,586.65" fill="#a66e48" stroke="#5e3e28" stroke-width="0.5" stroke-linejoin="miter"/>
<line x1="697.40" y1="570.35" x2="697.40" y2="586.65" stroke="#5a3a25" stroke-width="1.1"/>
<text transform="translate(709.20 583.87) scale(0.85 1)" font-family='"Liberation Sans", sans-serif' font-size="15" fill="#fff" text-anchor="middle" font-weight="normal">V</text>
<text x="673.60" y="566.62" font-family='"Liberation Sans", sans-serif' font-size="12" fill="#333" font-weight="normal" textLength="28.70" lengthAdjust="spacingAndGlyphs">283365</text>
<text x="673.60" y="599.52" font-family='"Liberation Sans", sans-serif' font-size="12" fill="#333" font-weight="normal" textLength="28.70" lengthAdjust="spacingAndGlyphs">414286</text>
<text transform="translate(476.0 680.4) scale(0.96 1)" font-family='"Liberation Serif", serif' font-size="29" font-weight="bold" fill="#231f20">C</text>
<path d="M622.71,726.09 A56.50,56.50 0 0 1 622.71,792.51" fill="none" stroke="#231f20" stroke-width="1.25"/>
<path d="M610.21,805.01 A56.50,56.50 0 0 1 543.79,805.01" fill="none" stroke="#231f20" stroke-width="1.25"/>
<path d="M531.29,792.51 A56.50,56.50 0 0 1 531.29,726.09" fill="none" stroke="#231f20" stroke-width="1.25"/>
<path d="M543.79,713.59 A56.50,56.50 0 0 1 610.21,713.59" fill="none" stroke="#231f20" stroke-width="1.25"/>
<polygon points="534.90,712.00 531.50,725.60 545.20,721.00" fill="#7d7d7d" stroke="none" stroke-width="0" stroke-linejoin="miter"/>
<polygon points="618.70,712.50 608.40,721.60 622.60,726.10" fill="#cfcfcf" stroke="none" stroke-width="0" stroke-linejoin="miter"/>
<polygon points="616.90,791.20 611.20,804.90 624.90,801.50" fill="#7d7d7d" stroke="none" stroke-width="0" stroke-linejoin="miter"/>
<polygon points="531.50,792.40 545.20,797.60 536.00,804.90" fill="#cfcfcf" stroke="none" stroke-width="0" stroke-linejoin="miter"/>
<polygon points="582.20,702.80 571.78,706.98 572.25,697.60" fill="#231f20" stroke="none" stroke-width="0" stroke-linejoin="miter"/>
<polygon points="633.50,765.40 628.30,755.45 637.68,754.98" fill="#231f20" stroke="none" stroke-width="0" stroke-linejoin="miter"/>
<polygon points="571.80,815.80 582.22,811.62 581.75,821.00" fill="#231f20" stroke="none" stroke-width="0" stroke-linejoin="miter"/>
<polygon points="520.50,754.10 525.70,764.05 516.32,764.52" fill="#231f20" stroke="none" stroke-width="0" stroke-linejoin="miter"/>
<text x="575.50" y="692.10" font-family='"Liberation Serif", serif' font-size="13" text-anchor="middle" font-weight="bold" font-style="normal" fill="#231f20" >A</text>
<text x="648.20" y="761.70" font-family='"Liberation Serif", serif' font-size="13" text-anchor="middle" font-weight="bold" font-style="normal" fill="#231f20" >B</text>
<text x="578.50" y="833.60" font-family='"Liberation Serif", serif' font-size="13" text-anchor="middle" font-weight="bold" font-style="normal" fill="#231f20" >C</text>
<text x="507.40" y="762.40" font-family='"Liberation Serif", serif' font-size="13" text-anchor="middle" font-weight="bold" font-style="normal" fill="#231f20" >D</text>
<text x="527.60" y="718.30" font-family='"Liberation Serif", serif' font-size="9.5" text-anchor="middle" font-weight="normal" font-style="normal" fill="#4a4a4a" >III</text>
<text x="624.40" y="718.30" font-family='"Liberation Serif", serif' font-size="9.5" text-anchor="middle" font-weight="normal" font-style="normal" fill="#4a4a4a" >I</text>
<text x="625.20" y="810.50" font-family='"Liberation Serif", serif' font-size="9.5" text-anchor="middle" font-weight="normal" font-style="normal" fill="#4a4a4a" >III</text>
<text x="531.00" y="810.50" font-family='"Liberation Serif", serif' font-size="9.5" text-anchor="middle" font-weight="normal" font-style="normal" fill="#4a4a4a" >I</text>
<text transform="translate(578.20 763.06) scale(0.82 1)" font-family='"Liberation Sans", sans-serif' font-size="17.5" fill="#3a3a3a" text-anchor="middle" font-weight="normal">A-B-C-D</text>
<line x1="660.50" y1="758.20" x2="669.50" y2="758.20" stroke="#231f20" stroke-width="1.6"/>
<text x="688.30" y="761.50" font-family='"Liberation Serif", serif' font-size="9.5" text-anchor="middle" font-weight="normal" font-style="normal" fill="#3a3a3a" >[III-III]</text>
<line x1="707.70" y1="758.20" x2="716.00" y2="758.20" stroke="#231f20" stroke-width="1.4"/>
<polygon points="714.50,755.00 714.50,761.40 720.50,758.20" fill="#231f20" stroke="none" stroke-width="0" stroke-linejoin="miter"/>
<path d="M848.51,725.69 A56.50,56.50 0 0 1 848.51,792.11" fill="none" stroke="#231f20" stroke-width="1.25"/>
<path d="M836.01,804.61 A56.50,56.50 0 0 1 769.59,804.61" fill="none" stroke="#231f20" stroke-width="1.25"/>
<path d="M757.09,792.11 A56.50,56.50 0 0 1 757.09,725.69" fill="none" stroke="#231f20" stroke-width="1.25"/>
<path d="M769.59,713.19 A56.50,56.50 0 0 1 836.01,713.19" fill="none" stroke="#231f20" stroke-width="1.25"/>
<polygon points="760.70,711.60 757.30,725.20 771.00,720.60" fill="#7d7d7d" stroke="none" stroke-width="0" stroke-linejoin="miter"/>
<polygon points="844.50,712.10 834.20,721.20 848.40,725.70" fill="#cfcfcf" stroke="none" stroke-width="0" stroke-linejoin="miter"/>
<polygon points="846.00,791.40 836.10,804.90 849.90,799.50" fill="#7d7d7d" stroke="none" stroke-width="0" stroke-linejoin="miter"/>
<polygon points="757.30,792.00 771.00,797.20 761.80,804.50" fill="#cfcfcf" stroke="none" stroke-width="0" stroke-linejoin="miter"/>
<polygon points="808.00,702.40 797.58,706.58 798.05,697.20" fill="#231f20" stroke="none" stroke-width="0" stroke-linejoin="miter"/>
<polygon points="859.30,765.00 854.10,755.05 863.48,754.58" fill="#231f20" stroke="none" stroke-width="0" stroke-linejoin="miter"/>
<polygon points="808.00,815.40 798.05,820.60 797.58,811.22" fill="#231f20" stroke="none" stroke-width="0" stroke-linejoin="miter"/>
<polygon points="746.30,764.10 742.12,753.68 751.50,754.15" fill="#231f20" stroke="none" stroke-width="0" stroke-linejoin="miter"/>
<text x="801.30" y="691.70" font-family='"Liberation Serif", serif' font-size="13" text-anchor="middle" font-weight="bold" font-style="normal" fill="#231f20" >A</text>
<text x="874.00" y="761.30" font-family='"Liberation Serif", serif' font-size="13" text-anchor="middle" font-weight="bold" font-style="normal" fill="#231f20" >B</text>
<text x="804.30" y="833.20" font-family='"Liberation Serif", serif' font-size="13" text-anchor="middle" font-weight="bold" font-style="normal" fill="#231f20" >D</text>
<text x="733.20" y="762.00" font-family='"Liberation Serif", serif' font-size="13" text-anchor="middle" font-weight="bold" font-style="normal" fill="#231f20" >C</text>
<text x="753.40" y="717.90" font-family='"Liberation Serif", serif' font-size="9.5" text-anchor="middle" font-weight="normal" font-style="normal" fill="#4a4a4a" >III</text>
<text x="850.20" y="717.90" font-family='"Liberation Serif", serif' font-size="9.5" text-anchor="middle" font-weight="normal" font-style="normal" fill="#4a4a4a" >I</text>
<text x="851.00" y="810.10" font-family='"Liberation Serif", serif' font-size="9.5" text-anchor="middle" font-weight="normal" font-style="normal" fill="#4a4a4a" >III</text>
<text x="756.80" y="810.10" font-family='"Liberation Serif", serif' font-size="9.5" text-anchor="middle" font-weight="normal" font-style="normal" fill="#4a4a4a" >I</text>
<text transform="translate(802.80 760.22) scale(0.8 1)" font-family='"Liberation Sans", sans-serif' font-size="18.5" fill="#3a3a3a" text-anchor="middle" font-weight="normal">A-B-D’-C’</text>
<text transform="translate(802.40 775.69) scale(0.82 1)" font-family='"Liberation Sans", sans-serif' font-size="14.5" fill="#4a4a4a" text-anchor="middle" font-weight="normal">(C-D-B’-A’)</text>
<line x1="578.70" y1="845.00" x2="578.70" y2="852.40" stroke="#231f20" stroke-width="2"/>
<text x="578.70" y="862.80" font-family='"Liberation Serif", serif' font-size="9.5" text-anchor="middle" font-weight="normal" font-style="normal" fill="#3a3a3a" >[I-I]</text>
<line x1="578.70" y1="866.00" x2="578.70" y2="871.00" stroke="#231f20" stroke-width="1.2"/>
<polygon points="575.40,870.50 582.00,870.50 578.70,876.50" fill="#231f20" stroke="none" stroke-width="0" stroke-linejoin="miter"/>
<text x="546.3" y="898.6" font-family='"Liberation Serif", serif' font-size="14" fill="#231f20" textLength="67.7" lengthAdjust="spacingAndGlyphs"><tspan font-family='"Liberation Sans", sans-serif'>A-D</tspan> and <tspan font-family='"Liberation Sans", sans-serif'>B-C</tspan></text>
<text x="580.70" y="913.90" font-family='"Liberation Serif", serif' font-size="14.5" text-anchor="middle" font-weight="normal" font-style="normal" fill="#231f20" >circles</text>
<line x1="801.90" y1="845.00" x2="801.90" y2="852.40" stroke="#231f20" stroke-width="2"/>
<text x="801.90" y="862.80" font-family='"Liberation Serif", serif' font-size="9.5" text-anchor="middle" font-weight="normal" font-style="normal" fill="#3a3a3a" >[I-I]</text>
<line x1="801.90" y1="866.00" x2="801.90" y2="871.00" stroke="#231f20" stroke-width="1.2"/>
<polygon points="798.60,870.50 805.20,870.50 801.90,876.50" fill="#231f20" stroke="none" stroke-width="0" stroke-linejoin="miter"/>
<path d="M847.80,929.08 A56.00,56.00 0 0 1 847.80,994.92" fill="none" stroke="#231f20" stroke-width="1.25"/>
<path d="M835.42,1007.30 A56.00,56.00 0 0 1 769.58,1007.30" fill="none" stroke="#231f20" stroke-width="1.25"/>
<path d="M757.20,994.92 A56.00,56.00 0 0 1 757.20,929.08" fill="none" stroke="#231f20" stroke-width="1.25"/>
<path d="M769.58,916.70 A56.00,56.00 0 0 1 835.42,916.70" fill="none" stroke="#231f20" stroke-width="1.25"/>
<polygon points="760.40,914.70 757.00,928.30 770.70,923.70" fill="#7d7d7d" stroke="none" stroke-width="0" stroke-linejoin="miter"/>
<polygon points="844.20,915.20 833.90,924.30 848.10,928.80" fill="#cfcfcf" stroke="none" stroke-width="0" stroke-linejoin="miter"/>
<polygon points="846.00,996.40 833.40,1002.70 844.20,1009.80" fill="#7d7d7d" stroke="none" stroke-width="0" stroke-linejoin="miter"/>
<polygon points="757.00,995.10 770.70,1000.30 761.50,1007.60" fill="#cfcfcf" stroke="none" stroke-width="0" stroke-linejoin="miter"/>
<polygon points="807.70,906.00 797.28,910.18 797.75,900.80" fill="#231f20" stroke="none" stroke-width="0" stroke-linejoin="miter"/>
<polygon points="858.50,968.10 853.30,958.15 862.68,957.68" fill="#231f20" stroke="none" stroke-width="0" stroke-linejoin="miter"/>
<polygon points="807.70,1018.00 797.75,1023.20 797.28,1013.82" fill="#231f20" stroke="none" stroke-width="0" stroke-linejoin="miter"/>
<polygon points="746.50,967.20 742.32,956.78 751.70,957.25" fill="#231f20" stroke="none" stroke-width="0" stroke-linejoin="miter"/>
<text x="801.00" y="894.80" font-family='"Liberation Serif", serif' font-size="13" text-anchor="middle" font-weight="bold" font-style="normal" fill="#231f20" >A</text>
<text x="873.70" y="964.40" font-family='"Liberation Serif", serif' font-size="13" text-anchor="middle" font-weight="bold" font-style="normal" fill="#231f20" >D</text>
<text x="804.00" y="1036.30" font-family='"Liberation Serif", serif' font-size="13" text-anchor="middle" font-weight="bold" font-style="normal" fill="#231f20" >B</text>
<text x="732.90" y="965.10" font-family='"Liberation Serif", serif' font-size="13" text-anchor="middle" font-weight="bold" font-style="normal" fill="#231f20" >C</text>
<text x="753.10" y="921.00" font-family='"Liberation Serif", serif' font-size="9.5" text-anchor="middle" font-weight="normal" font-style="normal" fill="#4a4a4a" >III</text>
<text x="849.90" y="921.00" font-family='"Liberation Serif", serif' font-size="9.5" text-anchor="middle" font-weight="normal" font-style="normal" fill="#4a4a4a" >I</text>
<text x="850.70" y="1013.20" font-family='"Liberation Serif", serif' font-size="9.5" text-anchor="middle" font-weight="normal" font-style="normal" fill="#4a4a4a" >III</text>
<text x="756.50" y="1013.20" font-family='"Liberation Serif", serif' font-size="9.5" text-anchor="middle" font-weight="normal" font-style="normal" fill="#4a4a4a" >I</text>
<text transform="translate(802.50 963.32) scale(0.785 1)" font-family='"Liberation Sans", sans-serif' font-size="18.5" fill="#3a3a3a" text-anchor="middle" font-weight="normal">A-D-B’-C’</text>
<text transform="translate(802.10 978.79) scale(0.815 1)" font-family='"Liberation Sans", sans-serif' font-size="14.5" fill="#4a4a4a" text-anchor="middle" font-weight="normal">(C-B-D’-A’)</text>
<text transform="translate(476.6 970.6) scale(1.0 1)" font-family='"Liberation Serif", serif' font-size="28.5" font-weight="bold" fill="#231f20">D</text>
<path d="M651.61,1041.50 A57.00,57.00 0 0 1 651.61,1108.50" fill="none" stroke="#231f20" stroke-width="1.25"/>
<path d="M639.00,1121.11 A57.00,57.00 0 0 1 572.00,1121.11" fill="none" stroke="#231f20" stroke-width="1.25"/>
<path d="M559.39,1108.50 A57.00,57.00 0 0 1 559.39,1041.50" fill="none" stroke="#231f20" stroke-width="1.25"/>
<path d="M572.00,1028.89 A57.00,57.00 0 0 1 639.00,1028.89" fill="none" stroke="#231f20" stroke-width="1.25"/>
<polygon points="563.40,1027.70 560.00,1041.30 573.70,1036.70" fill="#7d7d7d" stroke="none" stroke-width="0" stroke-linejoin="miter"/>
<polygon points="647.20,1028.20 636.90,1037.30 651.10,1041.80" fill="#cfcfcf" stroke="none" stroke-width="0" stroke-linejoin="miter"/>
<polygon points="649.00,1109.40 636.40,1115.70 647.20,1122.80" fill="#7d7d7d" stroke="none" stroke-width="0" stroke-linejoin="miter"/>
<polygon points="560.00,1108.10 573.70,1113.30 564.50,1120.60" fill="#cfcfcf" stroke="none" stroke-width="0" stroke-linejoin="miter"/>
<polygon points="610.70,1018.00 600.28,1022.18 600.75,1012.80" fill="#231f20" stroke="none" stroke-width="0" stroke-linejoin="miter"/>
<polygon points="662.50,1081.10 657.30,1071.15 666.68,1070.68" fill="#231f20" stroke="none" stroke-width="0" stroke-linejoin="miter"/>
<polygon points="610.70,1132.00 600.75,1137.20 600.28,1127.82" fill="#231f20" stroke="none" stroke-width="0" stroke-linejoin="miter"/>
<polygon points="548.50,1080.20 544.32,1069.78 553.70,1070.25" fill="#231f20" stroke="none" stroke-width="0" stroke-linejoin="miter"/>
<text x="604.00" y="1007.80" font-family='"Liberation Serif", serif' font-size="13" text-anchor="middle" font-weight="bold" font-style="normal" fill="#231f20" >A</text>
<text x="676.70" y="1077.40" font-family='"Liberation Serif", serif' font-size="13" text-anchor="middle" font-weight="bold" font-style="normal" fill="#231f20" >D</text>
<text x="607.00" y="1149.30" font-family='"Liberation Serif", serif' font-size="13" text-anchor="middle" font-weight="bold" font-style="normal" fill="#231f20" >B</text>
<text x="535.90" y="1078.10" font-family='"Liberation Serif", serif' font-size="13" text-anchor="middle" font-weight="bold" font-style="normal" fill="#231f20" >C</text>
<text x="556.10" y="1034.00" font-family='"Liberation Serif", serif' font-size="9.5" text-anchor="middle" font-weight="normal" font-style="normal" fill="#4a4a4a" >III</text>
<text x="652.90" y="1034.00" font-family='"Liberation Serif", serif' font-size="9.5" text-anchor="middle" font-weight="normal" font-style="normal" fill="#4a4a4a" >I</text>
<text x="653.70" y="1126.20" font-family='"Liberation Serif", serif' font-size="9.5" text-anchor="middle" font-weight="normal" font-style="normal" fill="#4a4a4a" >III</text>
<text x="559.50" y="1126.20" font-family='"Liberation Serif", serif' font-size="9.5" text-anchor="middle" font-weight="normal" font-style="normal" fill="#4a4a4a" >I</text>
<text transform="translate(605.50 1076.32) scale(0.735 1)" font-family='"Liberation Sans", sans-serif' font-size="18.5" fill="#3a3a3a" text-anchor="middle" font-weight="normal">A-D-B’-C’</text>
<text transform="translate(605.10 1091.79) scale(0.8 1)" font-family='"Liberation Sans", sans-serif' font-size="14.5" fill="#4a4a4a" text-anchor="middle" font-weight="normal">(C-B-D’-A’)</text>
<path d="M684.59,1043.85 A85.00,85.00 0 0 1 678.74,1118.14" fill="none" stroke="#858585" stroke-width="3.2"/>
<path d="M675.30,1123.51 A85.00,85.00 0 1 1 648.38,1001.61" fill="none" stroke="#858585" stroke-width="3.2"/>
<path d="M648.38,1001.61 A85.00,85.00 0 0 1 684.59,1043.85" fill="none" stroke="#9a9a9a" stroke-width="1"/>
<path d="M550.90,997.02 A95.20,95.20 0 0 1 687.53,1123.32" fill="none" stroke="#231f20" stroke-width="0.9"/>
<path d="M551.1,997.0 Q548.3,999.5 548.6,1002" fill="none" stroke="#231f20" stroke-width="0.9"/>
<polygon points="549.80,1006.20 545.72,1002.00 550.89,1000.44" fill="#231f20" stroke="none" stroke-width="0" stroke-linejoin="miter"/>
<polygon points="684.60,1123.80 682.90,1119.05 688.34,1120.40" fill="#231f20" stroke="none" stroke-width="0" stroke-linejoin="miter"/>
<line x1="692.40" y1="1075.30" x2="697.00" y2="1075.30" stroke="#231f20" stroke-width="0.9"/>
<path d="M697.00,1075.00 A91.50,91.50 0 0 1 686.29,1117.96" fill="none" stroke="#231f20" stroke-width="0.9"/>
<polygon points="681.00,1117.30 685.72,1114.22 686.23,1119.39" fill="#231f20" stroke="none" stroke-width="0" stroke-linejoin="miter"/>
<path d="M682.66,1125.11 A92.00,92.00 0 0 1 659.58,1149.43" fill="none" stroke="#231f20" stroke-width="0.9"/>
<line x1="682.70" y1="1125.10" x2="689.50" y2="1125.50" stroke="#231f20" stroke-width="0.9"/>
<line x1="657.00" y1="1146.50" x2="661.50" y2="1150.00" stroke="#8c8c8c" stroke-width="1.2"/>
<path d="M689.50,1125.47 A98.00,98.00 0 0 1 508.45,1061.36" fill="none" stroke="#231f20" stroke-width="0.9"/>
<line x1="507.50" y1="1060.00" x2="517.50" y2="1060.00" stroke="#231f20" stroke-width="0.9"/>
<line x1="517.50" y1="1057.50" x2="517.50" y2="1064.00" stroke="#8c8c8c" stroke-width="1.3"/>
<line x1="669.7" y1="1116.5" x2="669.70" y2="1111.70" stroke="#231f20" stroke-width="1.7" stroke-linecap="round"/>
<line x1="669.7" y1="1116.5" x2="674.27" y2="1115.02" stroke="#231f20" stroke-width="1.7" stroke-linecap="round"/>
<line x1="669.7" y1="1116.5" x2="672.52" y2="1120.38" stroke="#231f20" stroke-width="1.7" stroke-linecap="round"/>
<line x1="669.7" y1="1116.5" x2="666.88" y2="1120.38" stroke="#231f20" stroke-width="1.7" stroke-linecap="round"/>
<line x1="669.7" y1="1116.5" x2="665.13" y2="1115.02" stroke="#231f20" stroke-width="1.7" stroke-linecap="round"/>
<defs><path id="dup" d="M554.25,989.71 A99.50,99.50 0 0 1 675.86,1004.64"/></defs>
<text font-family='"Liberation Serif", serif' font-size="12.8" fill="#231f20"><textPath href="#dup" startOffset="1">+ 350-kb duplication</textPath></text>
</svg></body></html>
